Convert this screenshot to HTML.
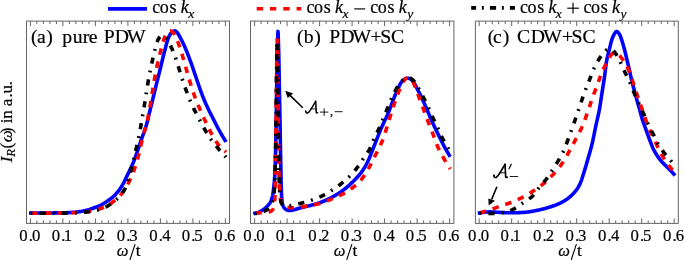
<!DOCTYPE html>
<html><head><meta charset="utf-8"><style>
html,body{margin:0;padding:0;background:#fff;overflow:hidden;}
svg{display:block;will-change:transform;}
text{font-family:"Liberation Serif",serif;fill:#000;stroke:#000;stroke-width:0.2px;}
</style></head><body>
<svg width="685" height="260" viewBox="0 0 685 260" xmlns="http://www.w3.org/2000/svg">
<rect width="685" height="260" fill="#fff"/>
<line x1="108" y1="8.9" x2="147" y2="8.9" stroke="#0000ff" stroke-width="3.7"/>
<text x="152.31 159.81 169.56" y="13.1" font-size="18" >cos</text><text x="180.78" y="13.1" font-size="18" font-style="italic" >k</text><text x="188.26" y="17.8" font-size="13.5" font-style="italic" >x</text>
<line x1="256.7" y1="8.65" x2="301.2" y2="8.65" stroke="#ff0000" stroke-width="3.5" stroke-dasharray="6.3 7"/>
<text x="306.61 314.11 323.86" y="13.1" font-size="18" >cos</text><text x="335.08" y="13.1" font-size="18" font-style="italic" >k</text><text x="342.56" y="17.8" font-size="13.5" font-style="italic" >x</text>
<line x1="354.3" y1="8.9" x2="365.2" y2="8.9" stroke="#000" stroke-width="1.15"/>
<text x="370.31 377.81 387.56" y="13.1" font-size="18" >cos</text><text x="398.78" y="13.1" font-size="18" font-style="italic" >k</text><text x="407.23" y="17.8" font-size="13.5" font-style="italic" >y</text>
<line x1="471.2" y1="7.9" x2="514.9" y2="7.9" stroke="#000000" stroke-width="3.7" stroke-dasharray="6.2 5.8 1.9 6.1" stroke-dashoffset="1.3"/>
<text x="519.91 527.41 537.16" y="13.1" font-size="18" >cos</text><text x="548.38" y="13.1" font-size="18" font-style="italic" >k</text><text x="555.86" y="17.8" font-size="13.5" font-style="italic" >x</text>
<line x1="567.2" y1="8.2" x2="578.9" y2="8.2" stroke="#000" stroke-width="1.15"/>
<line x1="573.0" y1="2.8" x2="573.0" y2="13.6" stroke="#000" stroke-width="1.15"/>
<text x="583.61 591.11 600.86" y="13.1" font-size="18" >cos</text><text x="612.08" y="13.1" font-size="18" font-style="italic" >k</text><text x="620.53" y="17.8" font-size="13.5" font-style="italic" >y</text>
<rect x="26.5" y="21.1" width="203.00" height="202.30" fill="none" stroke="#666" stroke-width="1"/>
<line x1="30.40" y1="21.1" x2="30.40" y2="26.1" stroke="#666" stroke-width="1"/>
<line x1="30.40" y1="223.4" x2="30.40" y2="218.4" stroke="#666" stroke-width="1"/>
<line x1="36.90" y1="21.1" x2="36.90" y2="24.1" stroke="#666" stroke-width="1"/>
<line x1="36.90" y1="223.4" x2="36.90" y2="220.4" stroke="#666" stroke-width="1"/>
<line x1="43.40" y1="21.1" x2="43.40" y2="24.1" stroke="#666" stroke-width="1"/>
<line x1="43.40" y1="223.4" x2="43.40" y2="220.4" stroke="#666" stroke-width="1"/>
<line x1="49.90" y1="21.1" x2="49.90" y2="24.1" stroke="#666" stroke-width="1"/>
<line x1="49.90" y1="223.4" x2="49.90" y2="220.4" stroke="#666" stroke-width="1"/>
<line x1="56.40" y1="21.1" x2="56.40" y2="24.1" stroke="#666" stroke-width="1"/>
<line x1="56.40" y1="223.4" x2="56.40" y2="220.4" stroke="#666" stroke-width="1"/>
<line x1="62.90" y1="21.1" x2="62.90" y2="26.1" stroke="#666" stroke-width="1"/>
<line x1="62.90" y1="223.4" x2="62.90" y2="218.4" stroke="#666" stroke-width="1"/>
<line x1="69.40" y1="21.1" x2="69.40" y2="24.1" stroke="#666" stroke-width="1"/>
<line x1="69.40" y1="223.4" x2="69.40" y2="220.4" stroke="#666" stroke-width="1"/>
<line x1="75.90" y1="21.1" x2="75.90" y2="24.1" stroke="#666" stroke-width="1"/>
<line x1="75.90" y1="223.4" x2="75.90" y2="220.4" stroke="#666" stroke-width="1"/>
<line x1="82.40" y1="21.1" x2="82.40" y2="24.1" stroke="#666" stroke-width="1"/>
<line x1="82.40" y1="223.4" x2="82.40" y2="220.4" stroke="#666" stroke-width="1"/>
<line x1="88.90" y1="21.1" x2="88.90" y2="24.1" stroke="#666" stroke-width="1"/>
<line x1="88.90" y1="223.4" x2="88.90" y2="220.4" stroke="#666" stroke-width="1"/>
<line x1="95.40" y1="21.1" x2="95.40" y2="26.1" stroke="#666" stroke-width="1"/>
<line x1="95.40" y1="223.4" x2="95.40" y2="218.4" stroke="#666" stroke-width="1"/>
<line x1="101.90" y1="21.1" x2="101.90" y2="24.1" stroke="#666" stroke-width="1"/>
<line x1="101.90" y1="223.4" x2="101.90" y2="220.4" stroke="#666" stroke-width="1"/>
<line x1="108.40" y1="21.1" x2="108.40" y2="24.1" stroke="#666" stroke-width="1"/>
<line x1="108.40" y1="223.4" x2="108.40" y2="220.4" stroke="#666" stroke-width="1"/>
<line x1="114.90" y1="21.1" x2="114.90" y2="24.1" stroke="#666" stroke-width="1"/>
<line x1="114.90" y1="223.4" x2="114.90" y2="220.4" stroke="#666" stroke-width="1"/>
<line x1="121.40" y1="21.1" x2="121.40" y2="24.1" stroke="#666" stroke-width="1"/>
<line x1="121.40" y1="223.4" x2="121.40" y2="220.4" stroke="#666" stroke-width="1"/>
<line x1="127.90" y1="21.1" x2="127.90" y2="26.1" stroke="#666" stroke-width="1"/>
<line x1="127.90" y1="223.4" x2="127.90" y2="218.4" stroke="#666" stroke-width="1"/>
<line x1="134.40" y1="21.1" x2="134.40" y2="24.1" stroke="#666" stroke-width="1"/>
<line x1="134.40" y1="223.4" x2="134.40" y2="220.4" stroke="#666" stroke-width="1"/>
<line x1="140.90" y1="21.1" x2="140.90" y2="24.1" stroke="#666" stroke-width="1"/>
<line x1="140.90" y1="223.4" x2="140.90" y2="220.4" stroke="#666" stroke-width="1"/>
<line x1="147.40" y1="21.1" x2="147.40" y2="24.1" stroke="#666" stroke-width="1"/>
<line x1="147.40" y1="223.4" x2="147.40" y2="220.4" stroke="#666" stroke-width="1"/>
<line x1="153.90" y1="21.1" x2="153.90" y2="24.1" stroke="#666" stroke-width="1"/>
<line x1="153.90" y1="223.4" x2="153.90" y2="220.4" stroke="#666" stroke-width="1"/>
<line x1="160.40" y1="21.1" x2="160.40" y2="26.1" stroke="#666" stroke-width="1"/>
<line x1="160.40" y1="223.4" x2="160.40" y2="218.4" stroke="#666" stroke-width="1"/>
<line x1="166.90" y1="21.1" x2="166.90" y2="24.1" stroke="#666" stroke-width="1"/>
<line x1="166.90" y1="223.4" x2="166.90" y2="220.4" stroke="#666" stroke-width="1"/>
<line x1="173.40" y1="21.1" x2="173.40" y2="24.1" stroke="#666" stroke-width="1"/>
<line x1="173.40" y1="223.4" x2="173.40" y2="220.4" stroke="#666" stroke-width="1"/>
<line x1="179.90" y1="21.1" x2="179.90" y2="24.1" stroke="#666" stroke-width="1"/>
<line x1="179.90" y1="223.4" x2="179.90" y2="220.4" stroke="#666" stroke-width="1"/>
<line x1="186.40" y1="21.1" x2="186.40" y2="24.1" stroke="#666" stroke-width="1"/>
<line x1="186.40" y1="223.4" x2="186.40" y2="220.4" stroke="#666" stroke-width="1"/>
<line x1="192.90" y1="21.1" x2="192.90" y2="26.1" stroke="#666" stroke-width="1"/>
<line x1="192.90" y1="223.4" x2="192.90" y2="218.4" stroke="#666" stroke-width="1"/>
<line x1="199.40" y1="21.1" x2="199.40" y2="24.1" stroke="#666" stroke-width="1"/>
<line x1="199.40" y1="223.4" x2="199.40" y2="220.4" stroke="#666" stroke-width="1"/>
<line x1="205.90" y1="21.1" x2="205.90" y2="24.1" stroke="#666" stroke-width="1"/>
<line x1="205.90" y1="223.4" x2="205.90" y2="220.4" stroke="#666" stroke-width="1"/>
<line x1="212.40" y1="21.1" x2="212.40" y2="24.1" stroke="#666" stroke-width="1"/>
<line x1="212.40" y1="223.4" x2="212.40" y2="220.4" stroke="#666" stroke-width="1"/>
<line x1="218.90" y1="21.1" x2="218.90" y2="24.1" stroke="#666" stroke-width="1"/>
<line x1="218.90" y1="223.4" x2="218.90" y2="220.4" stroke="#666" stroke-width="1"/>
<line x1="225.40" y1="21.1" x2="225.40" y2="26.1" stroke="#666" stroke-width="1"/>
<line x1="225.40" y1="223.4" x2="225.40" y2="218.4" stroke="#666" stroke-width="1"/>
<text transform="translate(19.16,241.3) scale(0.95,1)" font-size="17.6">0</text>
<text transform="translate(28.80,241.3) scale(0.95,1)" font-size="17.6">.</text>
<text transform="translate(31.96,241.3) scale(0.95,1)" font-size="17.6">0</text>
<text transform="translate(51.66,241.3) scale(0.95,1)" font-size="17.6">0</text>
<text transform="translate(61.30,241.3) scale(0.95,1)" font-size="17.6">.</text>
<text transform="translate(63.63,241.3) scale(0.95,1)" font-size="17.6">1</text>
<text transform="translate(84.16,241.3) scale(0.95,1)" font-size="17.6">0</text>
<text transform="translate(93.80,241.3) scale(0.95,1)" font-size="17.6">.</text>
<text transform="translate(96.87,241.3) scale(0.95,1)" font-size="17.6">2</text>
<text transform="translate(116.66,241.3) scale(0.95,1)" font-size="17.6">0</text>
<text transform="translate(126.30,241.3) scale(0.95,1)" font-size="17.6">.</text>
<text transform="translate(129.30,241.3) scale(0.95,1)" font-size="17.6">3</text>
<text transform="translate(149.16,241.3) scale(0.95,1)" font-size="17.6">0</text>
<text transform="translate(158.80,241.3) scale(0.95,1)" font-size="17.6">.</text>
<text transform="translate(162.27,241.3) scale(0.95,1)" font-size="17.6">4</text>
<text transform="translate(181.66,241.3) scale(0.95,1)" font-size="17.6">0</text>
<text transform="translate(191.30,241.3) scale(0.95,1)" font-size="17.6">.</text>
<text transform="translate(194.13,241.3) scale(0.95,1)" font-size="17.6">5</text>
<text transform="translate(214.16,241.3) scale(0.95,1)" font-size="17.6">0</text>
<text transform="translate(223.80,241.3) scale(0.95,1)" font-size="17.6">.</text>
<text transform="translate(226.88,241.3) scale(0.95,1)" font-size="17.6">6</text>
<text x="116.85" y="256.2" font-size="16.5" font-style="italic" >ω</text>
<line x1="135.10" y1="244.2" x2="129.90" y2="259.9" stroke="#000" stroke-width="1.1"/>
<text x="135.63" y="256.3" font-size="17.5" >t</text>
<rect x="250.5" y="21.1" width="203.40" height="202.30" fill="none" stroke="#666" stroke-width="1"/>
<line x1="254.60" y1="21.1" x2="254.60" y2="26.1" stroke="#666" stroke-width="1"/>
<line x1="254.60" y1="223.4" x2="254.60" y2="218.4" stroke="#666" stroke-width="1"/>
<line x1="261.10" y1="21.1" x2="261.10" y2="24.1" stroke="#666" stroke-width="1"/>
<line x1="261.10" y1="223.4" x2="261.10" y2="220.4" stroke="#666" stroke-width="1"/>
<line x1="267.60" y1="21.1" x2="267.60" y2="24.1" stroke="#666" stroke-width="1"/>
<line x1="267.60" y1="223.4" x2="267.60" y2="220.4" stroke="#666" stroke-width="1"/>
<line x1="274.10" y1="21.1" x2="274.10" y2="24.1" stroke="#666" stroke-width="1"/>
<line x1="274.10" y1="223.4" x2="274.10" y2="220.4" stroke="#666" stroke-width="1"/>
<line x1="280.60" y1="21.1" x2="280.60" y2="24.1" stroke="#666" stroke-width="1"/>
<line x1="280.60" y1="223.4" x2="280.60" y2="220.4" stroke="#666" stroke-width="1"/>
<line x1="287.10" y1="21.1" x2="287.10" y2="26.1" stroke="#666" stroke-width="1"/>
<line x1="287.10" y1="223.4" x2="287.10" y2="218.4" stroke="#666" stroke-width="1"/>
<line x1="293.60" y1="21.1" x2="293.60" y2="24.1" stroke="#666" stroke-width="1"/>
<line x1="293.60" y1="223.4" x2="293.60" y2="220.4" stroke="#666" stroke-width="1"/>
<line x1="300.10" y1="21.1" x2="300.10" y2="24.1" stroke="#666" stroke-width="1"/>
<line x1="300.10" y1="223.4" x2="300.10" y2="220.4" stroke="#666" stroke-width="1"/>
<line x1="306.60" y1="21.1" x2="306.60" y2="24.1" stroke="#666" stroke-width="1"/>
<line x1="306.60" y1="223.4" x2="306.60" y2="220.4" stroke="#666" stroke-width="1"/>
<line x1="313.10" y1="21.1" x2="313.10" y2="24.1" stroke="#666" stroke-width="1"/>
<line x1="313.10" y1="223.4" x2="313.10" y2="220.4" stroke="#666" stroke-width="1"/>
<line x1="319.60" y1="21.1" x2="319.60" y2="26.1" stroke="#666" stroke-width="1"/>
<line x1="319.60" y1="223.4" x2="319.60" y2="218.4" stroke="#666" stroke-width="1"/>
<line x1="326.10" y1="21.1" x2="326.10" y2="24.1" stroke="#666" stroke-width="1"/>
<line x1="326.10" y1="223.4" x2="326.10" y2="220.4" stroke="#666" stroke-width="1"/>
<line x1="332.60" y1="21.1" x2="332.60" y2="24.1" stroke="#666" stroke-width="1"/>
<line x1="332.60" y1="223.4" x2="332.60" y2="220.4" stroke="#666" stroke-width="1"/>
<line x1="339.10" y1="21.1" x2="339.10" y2="24.1" stroke="#666" stroke-width="1"/>
<line x1="339.10" y1="223.4" x2="339.10" y2="220.4" stroke="#666" stroke-width="1"/>
<line x1="345.60" y1="21.1" x2="345.60" y2="24.1" stroke="#666" stroke-width="1"/>
<line x1="345.60" y1="223.4" x2="345.60" y2="220.4" stroke="#666" stroke-width="1"/>
<line x1="352.10" y1="21.1" x2="352.10" y2="26.1" stroke="#666" stroke-width="1"/>
<line x1="352.10" y1="223.4" x2="352.10" y2="218.4" stroke="#666" stroke-width="1"/>
<line x1="358.60" y1="21.1" x2="358.60" y2="24.1" stroke="#666" stroke-width="1"/>
<line x1="358.60" y1="223.4" x2="358.60" y2="220.4" stroke="#666" stroke-width="1"/>
<line x1="365.10" y1="21.1" x2="365.10" y2="24.1" stroke="#666" stroke-width="1"/>
<line x1="365.10" y1="223.4" x2="365.10" y2="220.4" stroke="#666" stroke-width="1"/>
<line x1="371.60" y1="21.1" x2="371.60" y2="24.1" stroke="#666" stroke-width="1"/>
<line x1="371.60" y1="223.4" x2="371.60" y2="220.4" stroke="#666" stroke-width="1"/>
<line x1="378.10" y1="21.1" x2="378.10" y2="24.1" stroke="#666" stroke-width="1"/>
<line x1="378.10" y1="223.4" x2="378.10" y2="220.4" stroke="#666" stroke-width="1"/>
<line x1="384.60" y1="21.1" x2="384.60" y2="26.1" stroke="#666" stroke-width="1"/>
<line x1="384.60" y1="223.4" x2="384.60" y2="218.4" stroke="#666" stroke-width="1"/>
<line x1="391.10" y1="21.1" x2="391.10" y2="24.1" stroke="#666" stroke-width="1"/>
<line x1="391.10" y1="223.4" x2="391.10" y2="220.4" stroke="#666" stroke-width="1"/>
<line x1="397.60" y1="21.1" x2="397.60" y2="24.1" stroke="#666" stroke-width="1"/>
<line x1="397.60" y1="223.4" x2="397.60" y2="220.4" stroke="#666" stroke-width="1"/>
<line x1="404.10" y1="21.1" x2="404.10" y2="24.1" stroke="#666" stroke-width="1"/>
<line x1="404.10" y1="223.4" x2="404.10" y2="220.4" stroke="#666" stroke-width="1"/>
<line x1="410.60" y1="21.1" x2="410.60" y2="24.1" stroke="#666" stroke-width="1"/>
<line x1="410.60" y1="223.4" x2="410.60" y2="220.4" stroke="#666" stroke-width="1"/>
<line x1="417.10" y1="21.1" x2="417.10" y2="26.1" stroke="#666" stroke-width="1"/>
<line x1="417.10" y1="223.4" x2="417.10" y2="218.4" stroke="#666" stroke-width="1"/>
<line x1="423.60" y1="21.1" x2="423.60" y2="24.1" stroke="#666" stroke-width="1"/>
<line x1="423.60" y1="223.4" x2="423.60" y2="220.4" stroke="#666" stroke-width="1"/>
<line x1="430.10" y1="21.1" x2="430.10" y2="24.1" stroke="#666" stroke-width="1"/>
<line x1="430.10" y1="223.4" x2="430.10" y2="220.4" stroke="#666" stroke-width="1"/>
<line x1="436.60" y1="21.1" x2="436.60" y2="24.1" stroke="#666" stroke-width="1"/>
<line x1="436.60" y1="223.4" x2="436.60" y2="220.4" stroke="#666" stroke-width="1"/>
<line x1="443.10" y1="21.1" x2="443.10" y2="24.1" stroke="#666" stroke-width="1"/>
<line x1="443.10" y1="223.4" x2="443.10" y2="220.4" stroke="#666" stroke-width="1"/>
<line x1="449.60" y1="21.1" x2="449.60" y2="26.1" stroke="#666" stroke-width="1"/>
<line x1="449.60" y1="223.4" x2="449.60" y2="218.4" stroke="#666" stroke-width="1"/>
<text transform="translate(243.36,241.3) scale(0.95,1)" font-size="17.6">0</text>
<text transform="translate(253.00,241.3) scale(0.95,1)" font-size="17.6">.</text>
<text transform="translate(256.16,241.3) scale(0.95,1)" font-size="17.6">0</text>
<text transform="translate(275.86,241.3) scale(0.95,1)" font-size="17.6">0</text>
<text transform="translate(285.50,241.3) scale(0.95,1)" font-size="17.6">.</text>
<text transform="translate(287.83,241.3) scale(0.95,1)" font-size="17.6">1</text>
<text transform="translate(308.36,241.3) scale(0.95,1)" font-size="17.6">0</text>
<text transform="translate(318.00,241.3) scale(0.95,1)" font-size="17.6">.</text>
<text transform="translate(321.07,241.3) scale(0.95,1)" font-size="17.6">2</text>
<text transform="translate(340.86,241.3) scale(0.95,1)" font-size="17.6">0</text>
<text transform="translate(350.50,241.3) scale(0.95,1)" font-size="17.6">.</text>
<text transform="translate(353.50,241.3) scale(0.95,1)" font-size="17.6">3</text>
<text transform="translate(373.36,241.3) scale(0.95,1)" font-size="17.6">0</text>
<text transform="translate(383.00,241.3) scale(0.95,1)" font-size="17.6">.</text>
<text transform="translate(386.47,241.3) scale(0.95,1)" font-size="17.6">4</text>
<text transform="translate(405.86,241.3) scale(0.95,1)" font-size="17.6">0</text>
<text transform="translate(415.50,241.3) scale(0.95,1)" font-size="17.6">.</text>
<text transform="translate(418.33,241.3) scale(0.95,1)" font-size="17.6">5</text>
<text transform="translate(438.36,241.3) scale(0.95,1)" font-size="17.6">0</text>
<text transform="translate(448.00,241.3) scale(0.95,1)" font-size="17.6">.</text>
<text transform="translate(451.08,241.3) scale(0.95,1)" font-size="17.6">6</text>
<text x="333.65" y="256.2" font-size="16.5" font-style="italic" >ω</text>
<line x1="351.90" y1="244.2" x2="346.70" y2="259.9" stroke="#000" stroke-width="1.1"/>
<text x="352.43" y="256.3" font-size="17.5" >t</text>
<rect x="475.4" y="21.1" width="202.90" height="202.30" fill="none" stroke="#666" stroke-width="1"/>
<line x1="479.20" y1="21.1" x2="479.20" y2="26.1" stroke="#666" stroke-width="1"/>
<line x1="479.20" y1="223.4" x2="479.20" y2="218.4" stroke="#666" stroke-width="1"/>
<line x1="485.70" y1="21.1" x2="485.70" y2="24.1" stroke="#666" stroke-width="1"/>
<line x1="485.70" y1="223.4" x2="485.70" y2="220.4" stroke="#666" stroke-width="1"/>
<line x1="492.20" y1="21.1" x2="492.20" y2="24.1" stroke="#666" stroke-width="1"/>
<line x1="492.20" y1="223.4" x2="492.20" y2="220.4" stroke="#666" stroke-width="1"/>
<line x1="498.70" y1="21.1" x2="498.70" y2="24.1" stroke="#666" stroke-width="1"/>
<line x1="498.70" y1="223.4" x2="498.70" y2="220.4" stroke="#666" stroke-width="1"/>
<line x1="505.20" y1="21.1" x2="505.20" y2="24.1" stroke="#666" stroke-width="1"/>
<line x1="505.20" y1="223.4" x2="505.20" y2="220.4" stroke="#666" stroke-width="1"/>
<line x1="511.70" y1="21.1" x2="511.70" y2="26.1" stroke="#666" stroke-width="1"/>
<line x1="511.70" y1="223.4" x2="511.70" y2="218.4" stroke="#666" stroke-width="1"/>
<line x1="518.20" y1="21.1" x2="518.20" y2="24.1" stroke="#666" stroke-width="1"/>
<line x1="518.20" y1="223.4" x2="518.20" y2="220.4" stroke="#666" stroke-width="1"/>
<line x1="524.70" y1="21.1" x2="524.70" y2="24.1" stroke="#666" stroke-width="1"/>
<line x1="524.70" y1="223.4" x2="524.70" y2="220.4" stroke="#666" stroke-width="1"/>
<line x1="531.20" y1="21.1" x2="531.20" y2="24.1" stroke="#666" stroke-width="1"/>
<line x1="531.20" y1="223.4" x2="531.20" y2="220.4" stroke="#666" stroke-width="1"/>
<line x1="537.70" y1="21.1" x2="537.70" y2="24.1" stroke="#666" stroke-width="1"/>
<line x1="537.70" y1="223.4" x2="537.70" y2="220.4" stroke="#666" stroke-width="1"/>
<line x1="544.20" y1="21.1" x2="544.20" y2="26.1" stroke="#666" stroke-width="1"/>
<line x1="544.20" y1="223.4" x2="544.20" y2="218.4" stroke="#666" stroke-width="1"/>
<line x1="550.70" y1="21.1" x2="550.70" y2="24.1" stroke="#666" stroke-width="1"/>
<line x1="550.70" y1="223.4" x2="550.70" y2="220.4" stroke="#666" stroke-width="1"/>
<line x1="557.20" y1="21.1" x2="557.20" y2="24.1" stroke="#666" stroke-width="1"/>
<line x1="557.20" y1="223.4" x2="557.20" y2="220.4" stroke="#666" stroke-width="1"/>
<line x1="563.70" y1="21.1" x2="563.70" y2="24.1" stroke="#666" stroke-width="1"/>
<line x1="563.70" y1="223.4" x2="563.70" y2="220.4" stroke="#666" stroke-width="1"/>
<line x1="570.20" y1="21.1" x2="570.20" y2="24.1" stroke="#666" stroke-width="1"/>
<line x1="570.20" y1="223.4" x2="570.20" y2="220.4" stroke="#666" stroke-width="1"/>
<line x1="576.70" y1="21.1" x2="576.70" y2="26.1" stroke="#666" stroke-width="1"/>
<line x1="576.70" y1="223.4" x2="576.70" y2="218.4" stroke="#666" stroke-width="1"/>
<line x1="583.20" y1="21.1" x2="583.20" y2="24.1" stroke="#666" stroke-width="1"/>
<line x1="583.20" y1="223.4" x2="583.20" y2="220.4" stroke="#666" stroke-width="1"/>
<line x1="589.70" y1="21.1" x2="589.70" y2="24.1" stroke="#666" stroke-width="1"/>
<line x1="589.70" y1="223.4" x2="589.70" y2="220.4" stroke="#666" stroke-width="1"/>
<line x1="596.20" y1="21.1" x2="596.20" y2="24.1" stroke="#666" stroke-width="1"/>
<line x1="596.20" y1="223.4" x2="596.20" y2="220.4" stroke="#666" stroke-width="1"/>
<line x1="602.70" y1="21.1" x2="602.70" y2="24.1" stroke="#666" stroke-width="1"/>
<line x1="602.70" y1="223.4" x2="602.70" y2="220.4" stroke="#666" stroke-width="1"/>
<line x1="609.20" y1="21.1" x2="609.20" y2="26.1" stroke="#666" stroke-width="1"/>
<line x1="609.20" y1="223.4" x2="609.20" y2="218.4" stroke="#666" stroke-width="1"/>
<line x1="615.70" y1="21.1" x2="615.70" y2="24.1" stroke="#666" stroke-width="1"/>
<line x1="615.70" y1="223.4" x2="615.70" y2="220.4" stroke="#666" stroke-width="1"/>
<line x1="622.20" y1="21.1" x2="622.20" y2="24.1" stroke="#666" stroke-width="1"/>
<line x1="622.20" y1="223.4" x2="622.20" y2="220.4" stroke="#666" stroke-width="1"/>
<line x1="628.70" y1="21.1" x2="628.70" y2="24.1" stroke="#666" stroke-width="1"/>
<line x1="628.70" y1="223.4" x2="628.70" y2="220.4" stroke="#666" stroke-width="1"/>
<line x1="635.20" y1="21.1" x2="635.20" y2="24.1" stroke="#666" stroke-width="1"/>
<line x1="635.20" y1="223.4" x2="635.20" y2="220.4" stroke="#666" stroke-width="1"/>
<line x1="641.70" y1="21.1" x2="641.70" y2="26.1" stroke="#666" stroke-width="1"/>
<line x1="641.70" y1="223.4" x2="641.70" y2="218.4" stroke="#666" stroke-width="1"/>
<line x1="648.20" y1="21.1" x2="648.20" y2="24.1" stroke="#666" stroke-width="1"/>
<line x1="648.20" y1="223.4" x2="648.20" y2="220.4" stroke="#666" stroke-width="1"/>
<line x1="654.70" y1="21.1" x2="654.70" y2="24.1" stroke="#666" stroke-width="1"/>
<line x1="654.70" y1="223.4" x2="654.70" y2="220.4" stroke="#666" stroke-width="1"/>
<line x1="661.20" y1="21.1" x2="661.20" y2="24.1" stroke="#666" stroke-width="1"/>
<line x1="661.20" y1="223.4" x2="661.20" y2="220.4" stroke="#666" stroke-width="1"/>
<line x1="667.70" y1="21.1" x2="667.70" y2="24.1" stroke="#666" stroke-width="1"/>
<line x1="667.70" y1="223.4" x2="667.70" y2="220.4" stroke="#666" stroke-width="1"/>
<line x1="674.20" y1="21.1" x2="674.20" y2="26.1" stroke="#666" stroke-width="1"/>
<line x1="674.20" y1="223.4" x2="674.20" y2="218.4" stroke="#666" stroke-width="1"/>
<text transform="translate(467.96,241.3) scale(0.95,1)" font-size="17.6">0</text>
<text transform="translate(477.60,241.3) scale(0.95,1)" font-size="17.6">.</text>
<text transform="translate(480.76,241.3) scale(0.95,1)" font-size="17.6">0</text>
<text transform="translate(500.46,241.3) scale(0.95,1)" font-size="17.6">0</text>
<text transform="translate(510.10,241.3) scale(0.95,1)" font-size="17.6">.</text>
<text transform="translate(512.43,241.3) scale(0.95,1)" font-size="17.6">1</text>
<text transform="translate(532.96,241.3) scale(0.95,1)" font-size="17.6">0</text>
<text transform="translate(542.60,241.3) scale(0.95,1)" font-size="17.6">.</text>
<text transform="translate(545.67,241.3) scale(0.95,1)" font-size="17.6">2</text>
<text transform="translate(565.46,241.3) scale(0.95,1)" font-size="17.6">0</text>
<text transform="translate(575.10,241.3) scale(0.95,1)" font-size="17.6">.</text>
<text transform="translate(578.10,241.3) scale(0.95,1)" font-size="17.6">3</text>
<text transform="translate(597.96,241.3) scale(0.95,1)" font-size="17.6">0</text>
<text transform="translate(607.60,241.3) scale(0.95,1)" font-size="17.6">.</text>
<text transform="translate(611.07,241.3) scale(0.95,1)" font-size="17.6">4</text>
<text transform="translate(630.46,241.3) scale(0.95,1)" font-size="17.6">0</text>
<text transform="translate(640.10,241.3) scale(0.95,1)" font-size="17.6">.</text>
<text transform="translate(642.93,241.3) scale(0.95,1)" font-size="17.6">5</text>
<text transform="translate(662.96,241.3) scale(0.95,1)" font-size="17.6">0</text>
<text transform="translate(672.60,241.3) scale(0.95,1)" font-size="17.6">.</text>
<text transform="translate(675.68,241.3) scale(0.95,1)" font-size="17.6">6</text>
<text x="558.15" y="256.2" font-size="16.5" font-style="italic" >ω</text>
<line x1="576.40" y1="244.2" x2="571.20" y2="259.9" stroke="#000" stroke-width="1.1"/>
<text x="576.93" y="256.3" font-size="17.5" >t</text>
<path d="M29.00,213.00 L29.13,213.00 L29.26,213.00 L29.38,213.00 L29.50,213.00 L29.62,213.00 L29.75,213.00 L29.89,213.00 L30.04,213.00 L30.21,213.00 L30.40,213.00 L31.01,213.00 L31.77,213.00 L32.64,213.00 L33.61,213.00 L34.65,213.00 L35.73,213.00 L36.84,213.00 L37.93,213.00 L38.99,213.00 L40.00,213.00 L40.99,213.00 L41.99,212.99 L42.99,212.99 L43.99,212.99 L44.99,212.98 L45.99,212.98 L46.99,212.97 L48.00,212.96 L49.00,212.96 L50.00,212.95 L51.00,212.94 L52.00,212.94 L53.00,212.93 L54.00,212.92 L55.00,212.92 L56.00,212.91 L57.00,212.90 L58.00,212.88 L59.00,212.87 L60.00,212.85 L61.00,212.83 L62.00,212.81 L63.00,212.80 L64.00,212.78 L65.00,212.75 L66.00,212.73 L67.00,212.69 L68.00,212.65 L69.00,212.61 L70.00,212.55 L71.01,212.49 L72.02,212.42 L73.04,212.34 L74.06,212.26 L75.08,212.18 L76.09,212.08 L77.09,211.98 L78.08,211.86 L79.05,211.74 L80.00,211.60 L80.84,211.47 L81.67,211.32 L82.49,211.18 L83.30,211.02 L84.10,210.85 L84.89,210.68 L85.68,210.50 L86.46,210.31 L87.23,210.11 L88.00,209.90 L88.73,209.69 L89.46,209.47 L90.18,209.23 L90.90,208.99 L91.61,208.74 L92.32,208.49 L93.01,208.24 L93.69,207.99 L94.35,207.74 L95.00,207.50 L95.54,207.30 L96.06,207.11 L96.57,206.92 L97.07,206.73 L97.57,206.54 L98.05,206.35 L98.54,206.15 L99.02,205.94 L99.51,205.73 L100.00,205.50 L100.51,205.25 L101.01,205.00 L101.52,204.73 L102.02,204.46 L102.52,204.18 L103.02,203.90 L103.52,203.61 L104.01,203.31 L104.51,203.01 L105.00,202.70 L105.51,202.37 L106.03,202.03 L106.55,201.69 L107.06,201.33 L107.58,200.97 L108.08,200.61 L108.58,200.25 L109.07,199.89 L109.54,199.54 L110.00,199.20 L110.37,198.93 L110.72,198.66 L111.07,198.41 L111.40,198.16 L111.73,197.91 L112.06,197.65 L112.39,197.39 L112.72,197.11 L113.05,196.82 L113.40,196.50 L113.85,196.08 L114.30,195.63 L114.77,195.16 L115.24,194.67 L115.71,194.16 L116.18,193.64 L116.65,193.11 L117.11,192.58 L117.56,192.04 L118.00,191.50 L118.45,190.94 L118.88,190.37 L119.32,189.80 L119.74,189.22 L120.16,188.64 L120.58,188.04 L120.99,187.43 L121.40,186.80 L121.80,186.16 L122.20,185.50 L122.65,184.72 L123.10,183.91 L123.53,183.08 L123.97,182.23 L124.39,181.36 L124.82,180.49 L125.24,179.61 L125.66,178.73 L126.08,177.86 L126.50,177.00 L126.92,176.15 L127.34,175.29 L127.77,174.42 L128.19,173.55 L128.61,172.68 L129.03,171.82 L129.44,170.97 L129.83,170.13 L130.22,169.31 L130.60,168.50 L130.92,167.82 L131.23,167.15 L131.53,166.50 L131.82,165.86 L132.11,165.22 L132.40,164.58 L132.68,163.95 L132.95,163.31 L133.23,162.66 L133.50,162.00 L133.78,161.32 L134.05,160.63 L134.31,159.93 L134.57,159.24 L134.83,158.54 L135.08,157.84 L135.34,157.13 L135.59,156.42 L135.84,155.71 L136.10,155.00 L136.36,154.26 L136.63,153.52 L136.89,152.77 L137.15,152.02 L137.41,151.27 L137.67,150.51 L137.93,149.76 L138.19,149.01 L138.44,148.25 L138.70,147.50 L138.95,146.76 L139.19,146.04 L139.43,145.33 L139.66,144.62 L139.90,143.91 L140.13,143.18 L140.38,142.44 L140.64,141.66 L140.91,140.85 L141.20,140.00 L141.65,138.71 L142.14,137.33 L142.66,135.88 L143.21,134.38 L143.77,132.83 L144.33,131.26 L144.89,129.68 L145.42,128.10 L145.93,126.53 L146.40,125.00 L146.83,123.50 L147.24,122.00 L147.62,120.48 L148.00,118.96 L148.36,117.45 L148.71,115.93 L149.05,114.43 L149.40,112.93 L149.75,111.46 L150.10,110.00 L150.43,108.66 L150.75,107.35 L151.07,106.05 L151.39,104.76 L151.71,103.47 L152.03,102.19 L152.34,100.91 L152.66,99.62 L152.98,98.32 L153.30,97.00 L153.64,95.62 L153.97,94.23 L154.31,92.84 L154.65,91.44 L154.99,90.03 L155.33,88.62 L155.67,87.22 L156.01,85.81 L156.36,84.40 L156.70,83.00 L157.05,81.60 L157.40,80.20 L157.75,78.80 L158.10,77.40 L158.45,76.00 L158.80,74.60 L159.15,73.20 L159.50,71.80 L159.85,70.40 L160.20,69.00 L160.55,67.58 L160.90,66.13 L161.25,64.66 L161.60,63.19 L161.95,61.73 L162.30,60.29 L162.64,58.88 L162.97,57.52 L163.29,56.22 L163.60,55.00 L163.82,54.15 L164.03,53.34 L164.24,52.56 L164.44,51.81 L164.64,51.07 L164.83,50.35 L165.03,49.64 L165.22,48.93 L165.41,48.22 L165.60,47.50 L165.77,46.83 L165.94,46.16 L166.10,45.50 L166.26,44.84 L166.42,44.18 L166.58,43.53 L166.75,42.89 L166.92,42.25 L167.10,41.62 L167.30,41.00 L167.49,40.42 L167.69,39.84 L167.89,39.25 L168.10,38.68 L168.31,38.11 L168.53,37.55 L168.76,37.01 L169.00,36.48 L169.24,35.98 L169.50,35.50 L169.72,35.11 L169.95,34.73 L170.18,34.36 L170.42,34.00 L170.66,33.66 L170.91,33.32 L171.17,33.01 L171.44,32.72 L171.72,32.45 L172.00,32.20 L172.26,32.00 L172.53,31.80 L172.81,31.61 L173.10,31.44 L173.39,31.28 L173.68,31.14 L173.97,31.03 L174.26,30.95 L174.53,30.90 L174.80,30.90 L175.04,30.94 L175.27,31.01 L175.50,31.11 L175.73,31.23 L175.96,31.38 L176.18,31.55 L176.39,31.73 L176.60,31.92 L176.80,32.11 L177.00,32.30 L177.21,32.52 L177.40,32.74 L177.58,32.98 L177.75,33.23 L177.92,33.49 L178.08,33.76 L178.25,34.05 L178.42,34.35 L178.61,34.67 L178.80,35.00 L179.13,35.56 L179.48,36.17 L179.84,36.83 L180.22,37.53 L180.60,38.25 L180.99,39.00 L181.38,39.75 L181.76,40.51 L182.14,41.26 L182.50,42.00 L182.87,42.76 L183.23,43.52 L183.59,44.27 L183.94,45.03 L184.29,45.80 L184.64,46.58 L184.99,47.39 L185.35,48.22 L185.72,49.09 L186.10,50.00 L186.63,51.30 L187.19,52.69 L187.76,54.14 L188.34,55.65 L188.93,57.19 L189.52,58.76 L190.10,60.34 L190.68,61.92 L191.25,63.47 L191.80,65.00 L192.34,66.51 L192.87,68.05 L193.40,69.60 L193.93,71.16 L194.45,72.71 L194.96,74.24 L195.47,75.75 L195.96,77.22 L196.44,78.64 L196.90,80.00 L197.26,81.04 L197.60,82.03 L197.92,83.00 L198.25,83.94 L198.56,84.86 L198.88,85.77 L199.20,86.69 L199.52,87.61 L199.85,88.54 L200.20,89.50 L200.58,90.53 L200.95,91.57 L201.34,92.62 L201.73,93.67 L202.12,94.73 L202.52,95.79 L202.93,96.85 L203.34,97.90 L203.77,98.95 L204.20,100.00 L204.65,101.06 L205.11,102.12 L205.58,103.18 L206.06,104.24 L206.54,105.30 L207.03,106.35 L207.52,107.40 L208.01,108.44 L208.51,109.48 L209.00,110.50 L209.47,111.48 L209.95,112.45 L210.44,113.42 L210.93,114.39 L211.41,115.34 L211.90,116.30 L212.38,117.24 L212.86,118.17 L213.34,119.09 L213.80,120.00 L214.21,120.81 L214.62,121.62 L215.02,122.41 L215.42,123.19 L215.81,123.97 L216.21,124.74 L216.60,125.51 L217.00,126.28 L217.40,127.04 L217.80,127.80 L218.20,128.54 L218.59,129.27 L218.99,130.01 L219.40,130.74 L219.80,131.47 L220.20,132.19 L220.60,132.90 L221.00,133.61 L221.40,134.31 L221.80,135.00 L222.18,135.65 L222.57,136.32 L222.98,137.00 L223.39,137.69 L223.79,138.35 L224.18,138.99 L224.54,139.59 L224.87,140.13 L225.16,140.61 L225.40,141.00 L225.49,141.15 L225.57,141.28 L225.64,141.40 L225.70,141.50 L225.76,141.60 L225.82,141.70 L225.88,141.79 L225.94,141.89 L226.00,142.00" stroke="#0000ff" stroke-width="3.6" fill="none" stroke-linejoin="round"/>
<path d="M29.00,213.21 L29.13,213.21 L29.25,213.21 L29.37,213.21 L29.48,213.20 L29.60,213.20 L29.72,213.20 L29.86,213.20 L30.02,213.20 L30.19,213.20 L30.40,213.20 L31.44,213.20 L32.87,213.19 L34.61,213.18 L36.60,213.18 L38.77,213.17 L41.06,213.16 L43.39,213.15 L45.70,213.13 L47.93,213.12 L50.00,213.10 L52.02,213.08 L54.10,213.06 L56.20,213.03 L58.32,213.01 L60.42,212.98 L62.48,212.95 L64.50,212.92 L66.44,212.88 L68.28,212.84 L70.00,212.80 L71.14,212.77 L72.24,212.74 L73.29,212.71 L74.30,212.68 L75.29,212.64 L76.25,212.60 L77.19,212.56 L78.13,212.52 L79.06,212.46 L80.00,212.40 L80.84,212.34 L81.67,212.28 L82.49,212.21 L83.29,212.14 L84.09,212.06 L84.89,211.98 L85.67,211.90 L86.45,211.81 L87.23,211.71 L88.00,211.60 L88.73,211.49 L89.45,211.38 L90.18,211.26 L90.90,211.14 L91.61,211.01 L92.31,210.88 L93.01,210.74 L93.69,210.60 L94.35,210.45 L95.00,210.30 L95.54,210.17 L96.06,210.03 L96.57,209.89 L97.07,209.75 L97.56,209.60 L98.05,209.45 L98.53,209.30 L99.02,209.14 L99.51,208.97 L100.00,208.80 L100.50,208.62 L101.01,208.44 L101.51,208.25 L102.01,208.06 L102.51,207.86 L103.01,207.66 L103.51,207.45 L104.01,207.24 L104.50,207.02 L105.00,206.80 L105.51,206.57 L106.02,206.33 L106.53,206.09 L107.05,205.84 L107.56,205.58 L108.06,205.32 L108.56,205.05 L109.05,204.78 L109.53,204.49 L110.00,204.20 L110.43,203.91 L110.84,203.61 L111.25,203.30 L111.64,202.98 L112.03,202.65 L112.42,202.32 L112.80,201.99 L113.20,201.66 L113.59,201.33 L114.00,201.00 L114.44,200.66 L114.89,200.33 L115.35,200.00 L115.81,199.67 L116.28,199.33 L116.74,198.99 L117.19,198.64 L117.64,198.28 L118.08,197.90 L118.50,197.50 L118.93,197.06 L119.35,196.60 L119.77,196.12 L120.17,195.63 L120.57,195.13 L120.96,194.62 L121.34,194.10 L121.73,193.57 L122.11,193.04 L122.50,192.50 L122.92,191.91 L123.33,191.31 L123.74,190.70 L124.15,190.08 L124.56,189.45 L124.96,188.82 L125.36,188.18 L125.75,187.55 L126.13,186.92 L126.50,186.30 L126.85,185.72 L127.18,185.14 L127.52,184.57 L127.84,183.99 L128.16,183.42 L128.48,182.84 L128.79,182.27 L129.10,181.68 L129.40,181.09 L129.70,180.50 L130.00,179.89 L130.30,179.27 L130.59,178.64 L130.88,178.01 L131.16,177.38 L131.44,176.74 L131.71,176.10 L131.98,175.47 L132.24,174.83 L132.50,174.20 L132.75,173.58 L132.99,172.97 L133.23,172.35 L133.46,171.74 L133.69,171.12 L133.91,170.51 L134.14,169.89 L134.36,169.26 L134.58,168.63 L134.80,168.00 L135.03,167.34 L135.25,166.70 L135.47,166.06 L135.69,165.41 L135.90,164.76 L136.12,164.10 L136.34,163.42 L136.56,162.71 L136.78,161.97 L137.00,161.20 L137.31,160.08 L137.63,158.89 L137.95,157.64 L138.27,156.34 L138.59,155.01 L138.92,153.66 L139.24,152.30 L139.56,150.94 L139.88,149.61 L140.20,148.30 L140.51,147.01 L140.82,145.73 L141.12,144.43 L141.43,143.14 L141.73,141.85 L142.04,140.56 L142.35,139.28 L142.66,138.01 L142.98,136.75 L143.30,135.50 L143.62,134.33 L143.95,133.18 L144.29,132.04 L144.63,130.91 L144.97,129.79 L145.31,128.66 L145.65,127.52 L145.98,126.37 L146.30,125.20 L146.60,124.00 L146.92,122.66 L147.22,121.30 L147.51,119.93 L147.80,118.53 L148.08,117.13 L148.35,115.71 L148.61,114.29 L148.88,112.86 L149.14,111.43 L149.40,110.00 L149.67,108.52 L149.93,107.03 L150.19,105.52 L150.44,104.01 L150.69,102.49 L150.93,100.98 L151.18,99.47 L151.42,97.97 L151.66,96.48 L151.90,95.00 L152.13,93.60 L152.35,92.22 L152.56,90.84 L152.78,89.46 L152.99,88.10 L153.20,86.73 L153.42,85.37 L153.64,84.02 L153.87,82.66 L154.10,81.30 L154.33,79.96 L154.57,78.63 L154.81,77.30 L155.05,75.97 L155.29,74.64 L155.54,73.32 L155.79,71.99 L156.05,70.66 L156.32,69.33 L156.60,68.00 L156.89,66.64 L157.19,65.28 L157.50,63.91 L157.82,62.54 L158.14,61.17 L158.47,59.81 L158.80,58.44 L159.13,57.09 L159.46,55.74 L159.80,54.40 L160.13,53.08 L160.47,51.74 L160.82,50.38 L161.18,49.01 L161.53,47.67 L161.88,46.35 L162.23,45.08 L162.56,43.87 L162.89,42.74 L163.20,41.70 L163.39,41.08 L163.57,40.49 L163.74,39.93 L163.91,39.39 L164.08,38.88 L164.25,38.38 L164.43,37.90 L164.61,37.43 L164.80,36.96 L165.00,36.50 L165.18,36.11 L165.36,35.72 L165.54,35.35 L165.73,34.98 L165.92,34.62 L166.12,34.27 L166.33,33.93 L166.54,33.61 L166.76,33.30 L167.00,33.00 L167.22,32.74 L167.45,32.47 L167.69,32.20 L167.93,31.94 L168.18,31.69 L168.43,31.47 L168.70,31.27 L168.96,31.10 L169.23,30.98 L169.50,30.90 L169.76,30.87 L170.04,30.87 L170.32,30.90 L170.61,30.96 L170.90,31.05 L171.19,31.17 L171.48,31.30 L171.76,31.45 L172.03,31.62 L172.30,31.80 L172.64,32.07 L172.97,32.39 L173.29,32.74 L173.61,33.13 L173.92,33.55 L174.22,34.00 L174.52,34.48 L174.81,34.97 L175.11,35.48 L175.40,36.00 L175.80,36.76 L176.19,37.57 L176.56,38.43 L176.93,39.34 L177.30,40.28 L177.66,41.25 L178.02,42.25 L178.38,43.26 L178.74,44.28 L179.10,45.30 L179.54,46.54 L179.97,47.83 L180.41,49.15 L180.85,50.49 L181.28,51.86 L181.72,53.25 L182.15,54.64 L182.57,56.04 L182.99,57.43 L183.40,58.80 L183.81,60.19 L184.21,61.59 L184.60,63.00 L184.99,64.41 L185.37,65.82 L185.76,67.23 L186.14,68.64 L186.52,70.04 L186.91,71.43 L187.30,72.80 L187.68,74.11 L188.05,75.41 L188.43,76.70 L188.80,77.99 L189.18,79.27 L189.55,80.55 L189.93,81.82 L190.32,83.08 L190.71,84.34 L191.10,85.60 L191.48,86.81 L191.87,88.02 L192.26,89.22 L192.64,90.42 L193.04,91.61 L193.44,92.80 L193.84,93.98 L194.25,95.16 L194.67,96.33 L195.10,97.50 L195.53,98.64 L195.97,99.76 L196.41,100.87 L196.86,101.98 L197.31,103.09 L197.77,104.20 L198.24,105.31 L198.72,106.43 L199.21,107.56 L199.70,108.70 L200.24,109.95 L200.80,111.22 L201.37,112.50 L201.94,113.79 L202.53,115.08 L203.12,116.38 L203.71,117.67 L204.31,118.96 L204.91,120.24 L205.50,121.50 L206.07,122.72 L206.65,123.94 L207.21,125.16 L207.78,126.37 L208.36,127.57 L208.94,128.77 L209.53,129.97 L210.14,131.15 L210.76,132.33 L211.40,133.50 L212.06,134.67 L212.73,135.86 L213.41,137.06 L214.10,138.25 L214.81,139.42 L215.52,140.58 L216.25,141.70 L216.99,142.79 L217.74,143.82 L218.50,144.80 L219.19,145.61 L219.95,146.43 L220.75,147.24 L221.56,148.02 L222.37,148.77 L223.14,149.47 L223.86,150.11 L224.49,150.67 L225.01,151.14 L225.40,151.50 L225.50,151.59 L225.58,151.67 L225.65,151.74 L225.71,151.80 L225.77,151.86 L225.82,151.91 L225.88,151.97 L225.94,152.02 L226.00,152.08" stroke="#ff0000" stroke-width="3.6" fill="none" stroke-dasharray="6.5 6.9" stroke-dashoffset="11.3"/>
<path d="M29.00,213.20 L29.13,213.20 L29.25,213.20 L29.37,213.20 L29.48,213.20 L29.60,213.20 L29.72,213.20 L29.86,213.20 L30.02,213.20 L30.19,213.20 L30.40,213.20 L31.44,213.20 L32.87,213.20 L34.61,213.21 L36.60,213.21 L38.77,213.21 L41.06,213.21 L43.39,213.21 L45.70,213.21 L47.93,213.21 L50.00,213.20 L52.02,213.19 L54.10,213.18 L56.20,213.17 L58.32,213.16 L60.42,213.14 L62.48,213.12 L64.50,213.10 L66.44,213.07 L68.28,213.04 L70.00,213.00 L71.14,212.97 L72.24,212.94 L73.29,212.91 L74.30,212.88 L75.29,212.85 L76.25,212.81 L77.19,212.76 L78.13,212.72 L79.06,212.66 L80.00,212.60 L80.83,212.54 L81.64,212.48 L82.44,212.42 L83.22,212.35 L84.00,212.28 L84.77,212.20 L85.56,212.11 L86.35,212.02 L87.17,211.91 L88.00,211.80 L88.98,211.66 L89.99,211.52 L91.01,211.38 L92.05,211.23 L93.10,211.06 L94.15,210.88 L95.20,210.67 L96.25,210.45 L97.28,210.19 L98.30,209.90 L99.34,209.57 L100.38,209.23 L101.42,208.85 L102.45,208.46 L103.48,208.04 L104.50,207.59 L105.52,207.11 L106.52,206.61 L107.52,206.07 L108.50,205.50 L109.56,204.83 L110.64,204.10 L111.72,203.31 L112.80,202.49 L113.86,201.64 L114.89,200.78 L115.88,199.92 L116.82,199.08 L117.70,198.27 L118.50,197.50 L119.02,196.98 L119.51,196.48 L119.96,196.00 L120.39,195.52 L120.79,195.04 L121.18,194.56 L121.56,194.07 L121.94,193.57 L122.32,193.05 L122.70,192.50 L123.13,191.87 L123.55,191.22 L123.97,190.56 L124.38,189.88 L124.78,189.19 L125.17,188.48 L125.55,187.76 L125.91,187.02 L126.26,186.27 L126.60,185.50 L126.95,184.61 L127.28,183.69 L127.59,182.74 L127.89,181.78 L128.17,180.80 L128.44,179.80 L128.70,178.80 L128.96,177.80 L129.23,176.79 L129.50,175.80 L129.78,174.78 L130.06,173.75 L130.34,172.72 L130.61,171.69 L130.88,170.65 L131.15,169.60 L131.41,168.56 L131.68,167.51 L131.94,166.45 L132.20,165.40 L132.47,164.31 L132.73,163.22 L132.99,162.12 L133.25,161.02 L133.51,159.92 L133.77,158.81 L134.02,157.71 L134.28,156.60 L134.54,155.50 L134.80,154.40 L135.06,153.31 L135.32,152.21 L135.59,151.12 L135.86,150.03 L136.12,148.93 L136.38,147.84 L136.65,146.75 L136.90,145.66 L137.15,144.58 L137.40,143.50 L137.63,142.45 L137.87,141.42 L138.09,140.38 L138.32,139.35 L138.54,138.32 L138.76,137.29 L138.97,136.26 L139.18,135.22 L139.39,134.16 L139.60,133.10 L139.81,131.96 L140.02,130.81 L140.23,129.65 L140.43,128.48 L140.63,127.30 L140.82,126.13 L141.02,124.95 L141.21,123.79 L141.41,122.64 L141.60,121.50 L141.78,120.44 L141.97,119.39 L142.15,118.35 L142.33,117.31 L142.51,116.28 L142.69,115.25 L142.87,114.22 L143.04,113.19 L143.22,112.15 L143.40,111.10 L143.58,110.02 L143.76,108.94 L143.95,107.85 L144.13,106.76 L144.31,105.67 L144.49,104.57 L144.67,103.48 L144.85,102.38 L145.02,101.29 L145.20,100.20 L145.37,99.11 L145.54,98.02 L145.71,96.93 L145.88,95.84 L146.05,94.75 L146.22,93.66 L146.39,92.57 L146.56,91.48 L146.73,90.39 L146.90,89.30 L147.07,88.21 L147.25,87.12 L147.42,86.03 L147.59,84.94 L147.77,83.85 L147.95,82.76 L148.13,81.67 L148.31,80.58 L148.50,79.49 L148.70,78.40 L148.90,77.31 L149.11,76.22 L149.32,75.13 L149.54,74.05 L149.76,72.96 L149.98,71.87 L150.21,70.79 L150.44,69.69 L150.67,68.60 L150.90,67.50 L151.14,66.37 L151.38,65.23 L151.62,64.09 L151.87,62.94 L152.11,61.80 L152.36,60.65 L152.62,59.51 L152.87,58.36 L153.13,57.23 L153.40,56.10 L153.66,54.99 L153.93,53.86 L154.20,52.72 L154.48,51.59 L154.76,50.46 L155.04,49.35 L155.32,48.26 L155.61,47.20 L155.90,46.18 L156.20,45.20 L156.43,44.44 L156.65,43.70 L156.87,42.96 L157.09,42.24 L157.32,41.54 L157.55,40.86 L157.80,40.22 L158.08,39.60 L158.37,39.03 L158.70,38.50 L158.98,38.10 L159.28,37.69 L159.59,37.29 L159.91,36.91 L160.25,36.56 L160.59,36.24 L160.94,35.96 L161.29,35.74 L161.65,35.59 L162.00,35.50 L162.34,35.49 L162.69,35.54 L163.04,35.65 L163.40,35.80 L163.77,35.99 L164.13,36.21 L164.49,36.47 L164.84,36.73 L165.17,37.02 L165.50,37.30 L165.89,37.68 L166.27,38.11 L166.63,38.58 L166.98,39.08 L167.32,39.61 L167.65,40.17 L167.98,40.76 L168.32,41.36 L168.66,41.97 L169.00,42.60 L169.47,43.47 L169.94,44.39 L170.41,45.37 L170.89,46.38 L171.36,47.42 L171.83,48.48 L172.29,49.55 L172.74,50.62 L173.18,51.67 L173.60,52.70 L174.00,53.69 L174.38,54.69 L174.76,55.68 L175.13,56.68 L175.48,57.67 L175.84,58.67 L176.18,59.67 L176.52,60.68 L176.86,61.69 L177.20,62.70 L177.54,63.74 L177.86,64.77 L178.18,65.82 L178.50,66.87 L178.81,67.92 L179.12,68.97 L179.43,70.02 L179.75,71.08 L180.07,72.14 L180.40,73.20 L180.75,74.29 L181.10,75.39 L181.45,76.50 L181.81,77.60 L182.17,78.71 L182.53,79.82 L182.89,80.92 L183.26,82.02 L183.63,83.12 L184.00,84.20 L184.36,85.25 L184.72,86.29 L185.08,87.32 L185.44,88.35 L185.81,89.38 L186.18,90.40 L186.55,91.43 L186.93,92.45 L187.31,93.48 L187.70,94.50 L188.10,95.54 L188.50,96.57 L188.90,97.61 L189.31,98.65 L189.72,99.69 L190.14,100.72 L190.57,101.75 L191.00,102.77 L191.45,103.79 L191.90,104.80 L192.36,105.78 L192.82,106.75 L193.29,107.70 L193.76,108.65 L194.24,109.59 L194.74,110.55 L195.24,111.51 L195.75,112.48 L196.27,113.48 L196.80,114.50 L197.44,115.74 L198.11,117.02 L198.79,118.33 L199.49,119.67 L200.21,121.02 L200.92,122.37 L201.63,123.70 L202.34,125.01 L203.03,126.28 L203.70,127.50 L204.26,128.52 L204.81,129.52 L205.35,130.51 L205.88,131.47 L206.41,132.43 L206.94,133.36 L207.49,134.29 L208.04,135.20 L208.61,136.11 L209.20,137.00 L209.79,137.85 L210.41,138.69 L211.04,139.52 L211.68,140.33 L212.33,141.14 L212.98,141.93 L213.63,142.71 L214.27,143.49 L214.89,144.25 L215.50,145.00 L216.02,145.66 L216.53,146.30 L217.03,146.94 L217.53,147.57 L218.02,148.19 L218.51,148.81 L219.01,149.41 L219.50,150.01 L220.00,150.61 L220.50,151.20 L221.01,151.78 L221.55,152.38 L222.11,152.99 L222.68,153.61 L223.24,154.21 L223.77,154.78 L224.27,155.30 L224.72,155.78 L225.10,156.18 L225.40,156.50 L225.49,156.60 L225.57,156.69 L225.64,156.76 L225.71,156.83 L225.77,156.89 L225.82,156.96 L225.88,157.02 L225.94,157.08 L226.00,157.15" stroke="#000000" stroke-width="3.6" fill="none" stroke-dasharray="6.2 7 1.9 7.1" stroke-dashoffset="11.6"/>
<path d="M253.20,213.59 L253.34,213.56 L253.47,213.53 L253.60,213.51 L253.73,213.48 L253.86,213.45 L254.00,213.42 L254.14,213.40 L254.28,213.37 L254.44,213.33 L254.60,213.30 L254.88,213.25 L255.19,213.19 L255.51,213.14 L255.86,213.09 L256.21,213.03 L256.58,212.96 L256.94,212.89 L257.30,212.81 L257.66,212.71 L258.00,212.60 L258.36,212.47 L258.71,212.32 L259.06,212.16 L259.42,211.99 L259.77,211.80 L260.12,211.61 L260.46,211.42 L260.81,211.21 L261.16,211.01 L261.50,210.80 L261.86,210.58 L262.22,210.35 L262.57,210.12 L262.93,209.88 L263.28,209.63 L263.63,209.38 L263.98,209.12 L264.32,208.85 L264.66,208.58 L265.00,208.30 L265.35,208.00 L265.70,207.69 L266.04,207.36 L266.39,207.03 L266.73,206.70 L267.06,206.36 L267.39,206.02 L267.70,205.68 L268.01,205.34 L268.30,205.00 L268.55,204.71 L268.80,204.42 L269.03,204.14 L269.26,203.86 L269.48,203.57 L269.70,203.28 L269.91,202.98 L270.11,202.67 L270.31,202.34 L270.50,202.00 L270.72,201.57 L270.93,201.13 L271.13,200.67 L271.31,200.20 L271.49,199.71 L271.67,199.21 L271.83,198.69 L271.99,198.15 L272.15,197.58 L272.30,197.00 L272.50,196.15 L272.68,195.25 L272.85,194.29 L273.01,193.30 L273.16,192.28 L273.29,191.24 L273.43,190.18 L273.55,189.12 L273.68,188.05 L273.80,187.00 L273.93,185.86 L274.05,184.72 L274.16,183.58 L274.27,182.43 L274.37,181.26 L274.46,180.08 L274.55,178.86 L274.64,177.61 L274.72,176.33 L274.80,175.00 L274.90,173.23 L274.98,171.42 L275.06,169.55 L275.13,167.63 L275.20,165.67 L275.26,163.65 L275.32,161.57 L275.38,159.44 L275.44,157.25 L275.50,155.00 L275.58,151.89 L275.66,148.62 L275.74,145.22 L275.81,141.70 L275.88,138.11 L275.95,134.47 L276.01,130.81 L276.08,127.16 L276.14,123.54 L276.20,120.00 L276.26,116.48 L276.31,112.93 L276.36,109.36 L276.41,105.78 L276.46,102.22 L276.50,98.67 L276.55,95.17 L276.60,91.71 L276.65,88.32 L276.70,85.00 L276.75,82.13 L276.80,79.26 L276.85,76.42 L276.89,73.61 L276.95,70.84 L277.00,68.13 L277.05,65.47 L277.10,62.89 L277.15,60.40 L277.20,58.00 L277.24,56.22 L277.28,54.48 L277.32,52.79 L277.35,51.14 L277.39,49.53 L277.43,47.96 L277.47,46.43 L277.51,44.92 L277.56,43.45 L277.60,42.00 L277.64,40.76 L277.68,39.40 L277.72,37.99 L277.76,36.59 L277.80,35.24 L277.84,34.01 L277.88,32.95 L277.92,32.13 L277.96,31.59 L278.00,31.40 L278.04,31.59 L278.08,32.12 L278.12,32.93 L278.16,33.98 L278.20,35.20 L278.24,36.54 L278.28,37.95 L278.32,39.36 L278.36,40.73 L278.40,42.00 L278.45,43.59 L278.50,45.22 L278.55,46.91 L278.61,48.64 L278.66,50.42 L278.71,52.24 L278.76,54.11 L278.81,56.03 L278.85,57.99 L278.90,60.00 L278.96,62.69 L279.01,65.51 L279.06,68.44 L279.11,71.45 L279.15,74.52 L279.20,77.63 L279.25,80.76 L279.30,83.88 L279.35,86.97 L279.40,90.00 L279.46,93.00 L279.52,96.00 L279.58,99.00 L279.64,102.00 L279.70,105.00 L279.76,108.00 L279.82,111.00 L279.88,114.00 L279.94,117.00 L280.00,120.00 L280.05,123.03 L280.11,126.10 L280.16,129.19 L280.21,132.29 L280.26,135.38 L280.31,138.44 L280.35,141.45 L280.40,144.39 L280.45,147.25 L280.50,150.00 L280.54,152.17 L280.58,154.28 L280.62,156.33 L280.66,158.34 L280.70,160.32 L280.74,162.27 L280.78,164.20 L280.82,166.13 L280.86,168.06 L280.90,170.00 L280.94,171.86 L280.97,173.73 L281.01,175.61 L281.05,177.48 L281.08,179.34 L281.12,181.16 L281.16,182.95 L281.20,184.70 L281.25,186.38 L281.30,188.00 L281.34,189.23 L281.38,190.43 L281.41,191.62 L281.45,192.78 L281.48,193.91 L281.53,195.00 L281.58,196.07 L281.64,197.09 L281.71,198.07 L281.80,199.00 L281.87,199.64 L281.93,200.25 L282.00,200.84 L282.08,201.41 L282.16,201.97 L282.24,202.51 L282.34,203.03 L282.44,203.53 L282.56,204.02 L282.70,204.50 L282.82,204.88 L282.94,205.24 L283.07,205.60 L283.20,205.95 L283.34,206.29 L283.49,206.61 L283.65,206.93 L283.82,207.23 L284.00,207.52 L284.20,207.80 L284.39,208.05 L284.60,208.29 L284.81,208.52 L285.04,208.74 L285.27,208.95 L285.51,209.15 L285.75,209.33 L286.00,209.51 L286.25,209.66 L286.50,209.80 L286.73,209.91 L286.97,210.01 L287.21,210.09 L287.46,210.16 L287.71,210.22 L287.96,210.27 L288.22,210.31 L288.48,210.35 L288.74,210.38 L289.00,210.40 L289.28,210.42 L289.56,210.43 L289.83,210.43 L290.11,210.42 L290.40,210.41 L290.69,210.38 L290.99,210.35 L291.31,210.31 L291.64,210.26 L292.00,210.20 L292.65,210.07 L293.38,209.90 L294.16,209.70 L294.98,209.46 L295.84,209.21 L296.70,208.96 L297.56,208.70 L298.41,208.45 L299.23,208.21 L300.00,208.00 L300.62,207.84 L301.22,207.69 L301.80,207.54 L302.36,207.40 L302.92,207.27 L303.49,207.13 L304.08,206.98 L304.68,206.83 L305.32,206.67 L306.00,206.50 L307.04,206.24 L308.14,205.97 L309.31,205.69 L310.52,205.39 L311.76,205.08 L313.02,204.76 L314.29,204.42 L315.55,204.07 L316.79,203.69 L318.00,203.30 L319.22,202.88 L320.44,202.43 L321.67,201.97 L322.89,201.49 L324.11,200.99 L325.32,200.48 L326.52,199.95 L327.70,199.41 L328.86,198.86 L330.00,198.30 L331.07,197.75 L332.13,197.19 L333.18,196.60 L334.23,196.00 L335.26,195.39 L336.26,194.78 L337.25,194.17 L338.20,193.57 L339.12,192.98 L340.00,192.40 L340.67,191.95 L341.32,191.51 L341.94,191.08 L342.54,190.66 L343.13,190.23 L343.70,189.80 L344.27,189.37 L344.84,188.92 L345.42,188.47 L346.00,188.00 L346.61,187.49 L347.23,186.97 L347.85,186.43 L348.47,185.89 L349.08,185.34 L349.69,184.78 L350.28,184.23 L350.87,183.68 L351.44,183.13 L352.00,182.60 L352.48,182.13 L352.95,181.67 L353.41,181.22 L353.87,180.77 L354.31,180.31 L354.75,179.86 L355.19,179.40 L355.62,178.94 L356.06,178.48 L356.50,178.00 L356.96,177.50 L357.42,177.00 L357.88,176.49 L358.34,175.98 L358.80,175.47 L359.25,174.95 L359.70,174.42 L360.14,173.89 L360.57,173.35 L361.00,172.80 L361.43,172.23 L361.85,171.65 L362.26,171.07 L362.67,170.48 L363.08,169.88 L363.47,169.28 L363.86,168.67 L364.25,168.05 L364.63,167.43 L365.00,166.80 L365.38,166.15 L365.74,165.49 L366.11,164.83 L366.46,164.17 L366.81,163.50 L367.15,162.82 L367.49,162.13 L367.83,161.43 L368.16,160.72 L368.50,160.00 L368.86,159.20 L369.22,158.39 L369.56,157.57 L369.91,156.74 L370.25,155.90 L370.59,155.05 L370.94,154.18 L371.28,153.30 L371.64,152.41 L372.00,151.50 L372.43,150.43 L372.86,149.33 L373.30,148.21 L373.74,147.07 L374.19,145.92 L374.64,144.75 L375.10,143.57 L375.56,142.39 L376.03,141.19 L376.50,140.00 L377.02,138.69 L377.55,137.36 L378.08,136.01 L378.62,134.66 L379.17,133.29 L379.72,131.92 L380.28,130.55 L380.85,129.19 L381.42,127.84 L382.00,126.50 L382.59,125.19 L383.19,123.89 L383.81,122.59 L384.44,121.31 L385.07,120.02 L385.69,118.73 L386.32,117.44 L386.93,116.14 L387.52,114.83 L388.10,113.50 L388.67,112.11 L389.24,110.68 L389.80,109.22 L390.35,107.74 L390.89,106.27 L391.42,104.82 L391.93,103.40 L392.44,102.03 L392.93,100.73 L393.40,99.50 L393.74,98.65 L394.07,97.83 L394.39,97.04 L394.70,96.27 L395.01,95.53 L395.31,94.80 L395.61,94.09 L395.90,93.38 L396.20,92.69 L396.50,92.00 L396.76,91.41 L397.01,90.83 L397.26,90.26 L397.50,89.70 L397.75,89.15 L397.99,88.61 L398.24,88.07 L398.49,87.54 L398.74,87.02 L399.00,86.50 L399.24,86.02 L399.47,85.54 L399.71,85.06 L399.94,84.59 L400.18,84.13 L400.43,83.67 L400.68,83.23 L400.94,82.80 L401.21,82.39 L401.50,82.00 L401.77,81.67 L402.04,81.34 L402.33,81.02 L402.62,80.71 L402.92,80.42 L403.22,80.14 L403.54,79.87 L403.85,79.63 L404.17,79.40 L404.50,79.20 L404.80,79.03 L405.11,78.87 L405.42,78.73 L405.74,78.60 L406.07,78.48 L406.39,78.38 L406.72,78.30 L407.05,78.24 L407.38,78.21 L407.70,78.20 L408.03,78.22 L408.37,78.25 L408.71,78.32 L409.05,78.40 L409.39,78.50 L409.72,78.63 L410.06,78.77 L410.38,78.93 L410.70,79.11 L411.00,79.30 L411.34,79.55 L411.66,79.83 L411.97,80.13 L412.28,80.46 L412.57,80.82 L412.86,81.19 L413.15,81.57 L413.43,81.97 L413.72,82.38 L414.00,82.80 L414.35,83.34 L414.69,83.91 L415.03,84.51 L415.36,85.13 L415.68,85.77 L416.01,86.42 L416.33,87.07 L416.65,87.73 L416.98,88.37 L417.30,89.00 L417.63,89.62 L417.95,90.25 L418.28,90.87 L418.61,91.50 L418.94,92.13 L419.26,92.75 L419.58,93.37 L419.89,93.99 L420.20,94.60 L420.50,95.20 L420.77,95.74 L421.02,96.27 L421.27,96.79 L421.52,97.30 L421.76,97.81 L422.00,98.33 L422.24,98.85 L422.49,99.38 L422.74,99.93 L423.00,100.50 L423.31,101.19 L423.64,101.91 L423.96,102.64 L424.29,103.39 L424.63,104.15 L424.96,104.92 L425.30,105.69 L425.63,106.46 L425.97,107.23 L426.30,108.00 L426.64,108.79 L426.98,109.59 L427.32,110.39 L427.66,111.19 L428.00,112.00 L428.34,112.81 L428.68,113.61 L429.02,114.41 L429.36,115.21 L429.70,116.00 L430.03,116.76 L430.36,117.52 L430.69,118.28 L431.02,119.04 L431.35,119.79 L431.68,120.54 L432.01,121.29 L432.34,122.03 L432.67,122.77 L433.00,123.50 L433.32,124.19 L433.63,124.87 L433.94,125.54 L434.25,126.21 L434.56,126.87 L434.88,127.54 L435.20,128.21 L435.52,128.89 L435.86,129.59 L436.20,130.30 L436.60,131.13 L437.01,131.97 L437.44,132.83 L437.86,133.71 L438.30,134.59 L438.74,135.47 L439.18,136.36 L439.62,137.24 L440.06,138.13 L440.50,139.00 L440.93,139.87 L441.37,140.75 L441.80,141.63 L442.23,142.50 L442.67,143.38 L443.11,144.25 L443.55,145.12 L443.99,145.99 L444.44,146.85 L444.90,147.70 L445.37,148.56 L445.89,149.47 L446.42,150.40 L446.97,151.34 L447.50,152.26 L448.02,153.13 L448.51,153.95 L448.94,154.68 L449.31,155.30 L449.60,155.80 L449.69,155.96 L449.77,156.10 L449.84,156.22 L449.91,156.33 L449.96,156.43 L450.02,156.53 L450.08,156.62 L450.14,156.72 L450.20,156.83" stroke="#0000ff" stroke-width="3.6" fill="none" stroke-linejoin="round"/>
<path d="M253.20,213.69 L253.34,213.67 L253.47,213.65 L253.60,213.64 L253.72,213.62 L253.85,213.60 L253.98,213.58 L254.12,213.57 L254.27,213.54 L254.43,213.52 L254.60,213.50 L254.94,213.45 L255.33,213.40 L255.75,213.34 L256.19,213.27 L256.66,213.20 L257.14,213.14 L257.62,213.07 L258.09,213.01 L258.56,212.95 L259.00,212.90 L259.41,212.86 L259.81,212.82 L260.21,212.79 L260.61,212.76 L261.01,212.73 L261.41,212.71 L261.81,212.68 L262.20,212.66 L262.60,212.63 L263.00,212.60 L263.40,212.57 L263.81,212.55 L264.22,212.52 L264.63,212.50 L265.04,212.48 L265.44,212.45 L265.84,212.42 L266.24,212.39 L266.62,212.35 L267.00,212.30 L267.32,212.26 L267.64,212.22 L267.95,212.18 L268.26,212.13 L268.57,212.08 L268.87,212.03 L269.16,211.97 L269.45,211.89 L269.73,211.80 L270.00,211.70 L270.25,211.59 L270.49,211.47 L270.73,211.35 L270.96,211.21 L271.18,211.06 L271.40,210.91 L271.61,210.75 L271.82,210.57 L272.01,210.39 L272.20,210.20 L272.39,209.99 L272.57,209.76 L272.74,209.52 L272.90,209.27 L273.05,209.02 L273.20,208.75 L273.33,208.47 L273.46,208.19 L273.58,207.90 L273.70,207.60 L273.82,207.24 L273.93,206.87 L274.03,206.48 L274.12,206.09 L274.19,205.68 L274.26,205.26 L274.32,204.84 L274.38,204.40 L274.44,203.95 L274.50,203.50 L274.57,202.92 L274.63,202.32 L274.68,201.70 L274.72,201.06 L274.75,200.41 L274.79,199.75 L274.82,199.08 L274.84,198.39 L274.87,197.70 L274.90,197.00 L274.93,196.17 L274.96,195.32 L274.98,194.46 L275.00,193.58 L275.02,192.69 L275.04,191.79 L275.05,190.87 L275.07,189.93 L275.08,188.97 L275.10,188.00 L275.12,186.82 L275.14,185.64 L275.16,184.44 L275.18,183.23 L275.20,181.98 L275.22,180.70 L275.24,179.37 L275.26,177.98 L275.28,176.53 L275.30,175.00 L275.34,172.52 L275.37,169.86 L275.41,167.04 L275.45,164.10 L275.49,161.04 L275.53,157.90 L275.57,154.71 L275.62,151.47 L275.66,148.23 L275.70,145.00 L275.75,141.22 L275.80,137.32 L275.85,133.34 L275.90,129.29 L275.95,125.19 L276.00,121.08 L276.05,116.98 L276.10,112.92 L276.15,108.92 L276.20,105.00 L276.24,101.36 L276.28,97.69 L276.32,94.02 L276.36,90.36 L276.40,86.75 L276.44,83.19 L276.48,79.71 L276.52,76.34 L276.56,73.10 L276.60,70.00 L276.63,67.75 L276.66,65.55 L276.69,63.41 L276.71,61.32 L276.74,59.29 L276.77,57.32 L276.80,55.40 L276.83,53.54 L276.87,51.74 L276.90,50.00 L276.93,48.65 L276.96,47.20 L276.99,45.70 L277.02,44.21 L277.05,42.80 L277.08,41.51 L277.11,40.41 L277.14,39.55 L277.17,39.00 L277.20,38.80 L277.23,39.00 L277.26,39.55 L277.29,40.41 L277.32,41.51 L277.35,42.80 L277.38,44.21 L277.41,45.70 L277.44,47.20 L277.47,48.65 L277.50,50.00 L277.53,51.74 L277.57,53.54 L277.60,55.40 L277.63,57.32 L277.66,59.29 L277.69,61.32 L277.72,63.41 L277.75,65.55 L277.77,67.75 L277.80,70.00 L277.83,73.10 L277.87,76.34 L277.90,79.71 L277.92,83.19 L277.95,86.75 L277.98,90.36 L278.01,94.02 L278.04,97.69 L278.07,101.36 L278.10,105.00 L278.14,108.92 L278.17,112.92 L278.21,116.98 L278.24,121.08 L278.28,125.19 L278.32,129.29 L278.36,133.34 L278.41,137.32 L278.45,141.22 L278.50,145.00 L278.54,148.22 L278.58,151.44 L278.63,154.64 L278.67,157.80 L278.72,160.91 L278.76,163.95 L278.82,166.89 L278.87,169.73 L278.93,172.44 L279.00,175.00 L279.05,176.73 L279.10,178.39 L279.15,180.00 L279.20,181.56 L279.25,183.06 L279.30,184.52 L279.37,185.94 L279.44,187.33 L279.51,188.68 L279.60,190.00 L279.67,191.01 L279.74,192.00 L279.82,192.97 L279.90,193.91 L279.98,194.84 L280.07,195.73 L280.17,196.60 L280.27,197.43 L280.38,198.23 L280.50,199.00 L280.59,199.53 L280.68,200.05 L280.77,200.56 L280.86,201.04 L280.96,201.51 L281.06,201.97 L281.18,202.40 L281.30,202.82 L281.44,203.22 L281.60,203.60 L281.73,203.88 L281.86,204.15 L282.00,204.41 L282.14,204.66 L282.29,204.89 L282.45,205.12 L282.62,205.33 L282.80,205.54 L282.99,205.72 L283.20,205.90 L283.43,206.07 L283.68,206.21 L283.94,206.34 L284.22,206.46 L284.50,206.56 L284.80,206.66 L285.09,206.75 L285.40,206.83 L285.70,206.92 L286.00,207.00 L286.33,207.09 L286.67,207.17 L287.01,207.24 L287.36,207.30 L287.72,207.36 L288.08,207.42 L288.43,207.47 L288.79,207.52 L289.15,207.56 L289.50,207.60 L289.84,207.64 L290.18,207.67 L290.51,207.71 L290.84,207.73 L291.17,207.76 L291.51,207.78 L291.86,207.79 L292.22,207.80 L292.60,207.80 L293.00,207.80 L293.60,207.78 L294.25,207.76 L294.92,207.71 L295.63,207.66 L296.35,207.60 L297.09,207.53 L297.83,207.46 L298.56,207.37 L299.29,207.29 L300.00,207.20 L300.70,207.10 L301.41,207.00 L302.11,206.88 L302.82,206.76 L303.52,206.63 L304.22,206.50 L304.92,206.37 L305.62,206.25 L306.31,206.12 L307.00,206.00 L307.66,205.89 L308.31,205.78 L308.96,205.68 L309.61,205.58 L310.26,205.47 L310.90,205.37 L311.55,205.26 L312.19,205.15 L312.84,205.03 L313.50,204.90 L314.19,204.76 L314.88,204.62 L315.57,204.47 L316.27,204.32 L316.97,204.17 L317.67,204.01 L318.36,203.84 L319.05,203.67 L319.73,203.49 L320.40,203.30 L321.03,203.12 L321.65,202.92 L322.26,202.73 L322.87,202.53 L323.47,202.32 L324.08,202.11 L324.68,201.89 L325.28,201.66 L325.89,201.44 L326.50,201.20 L327.15,200.94 L327.79,200.68 L328.44,200.41 L329.09,200.12 L329.74,199.84 L330.39,199.55 L331.05,199.26 L331.70,198.97 L332.35,198.68 L333.00,198.40 L333.65,198.12 L334.31,197.84 L334.96,197.57 L335.62,197.29 L336.27,197.02 L336.92,196.74 L337.58,196.46 L338.22,196.18 L338.86,195.89 L339.50,195.60 L340.12,195.31 L340.73,195.03 L341.34,194.74 L341.95,194.45 L342.55,194.16 L343.15,193.87 L343.74,193.56 L344.34,193.25 L344.92,192.93 L345.50,192.60 L346.07,192.26 L346.63,191.92 L347.19,191.56 L347.74,191.20 L348.29,190.83 L348.83,190.46 L349.37,190.08 L349.91,189.69 L350.46,189.30 L351.00,188.90 L351.57,188.48 L352.14,188.05 L352.72,187.61 L353.29,187.16 L353.86,186.71 L354.43,186.25 L354.99,185.79 L355.54,185.33 L356.08,184.86 L356.60,184.40 L357.07,183.97 L357.54,183.55 L358.00,183.12 L358.45,182.70 L358.89,182.27 L359.32,181.83 L359.75,181.39 L360.17,180.94 L360.59,180.48 L361.00,180.00 L361.42,179.49 L361.83,178.96 L362.24,178.41 L362.64,177.86 L363.03,177.30 L363.42,176.73 L363.80,176.17 L364.17,175.61 L364.54,175.05 L364.90,174.50 L365.23,174.00 L365.55,173.50 L365.87,173.01 L366.18,172.52 L366.49,172.03 L366.79,171.54 L367.09,171.04 L367.39,170.54 L367.69,170.02 L368.00,169.50 L368.33,168.92 L368.67,168.33 L369.00,167.73 L369.33,167.12 L369.66,166.51 L369.99,165.89 L370.32,165.27 L370.65,164.64 L370.98,164.02 L371.30,163.40 L371.63,162.77 L371.95,162.14 L372.27,161.50 L372.58,160.87 L372.90,160.23 L373.22,159.59 L373.53,158.95 L373.85,158.30 L374.17,157.65 L374.50,157.00 L374.85,156.31 L375.19,155.61 L375.55,154.91 L375.90,154.20 L376.26,153.49 L376.61,152.79 L376.97,152.08 L377.32,151.38 L377.66,150.69 L378.00,150.00 L378.31,149.37 L378.62,148.74 L378.93,148.12 L379.23,147.51 L379.53,146.89 L379.83,146.28 L380.13,145.67 L380.42,145.05 L380.71,144.43 L381.00,143.80 L381.29,143.16 L381.58,142.54 L381.86,141.92 L382.14,141.30 L382.41,140.67 L382.69,140.03 L382.96,139.37 L383.24,138.68 L383.52,137.96 L383.80,137.20 L384.19,136.07 L384.59,134.86 L384.99,133.58 L385.39,132.24 L385.79,130.87 L386.19,129.48 L386.59,128.08 L386.99,126.69 L387.40,125.33 L387.80,124.00 L388.20,122.73 L388.59,121.46 L388.99,120.20 L389.38,118.94 L389.78,117.68 L390.18,116.43 L390.58,115.17 L390.98,113.92 L391.39,112.66 L391.80,111.40 L392.22,110.10 L392.66,108.78 L393.10,107.43 L393.55,106.08 L393.99,104.74 L394.44,103.42 L394.87,102.13 L395.30,100.89 L395.71,99.71 L396.10,98.60 L396.37,97.85 L396.63,97.13 L396.89,96.44 L397.14,95.78 L397.39,95.13 L397.63,94.50 L397.88,93.87 L398.12,93.25 L398.36,92.63 L398.60,92.00 L398.82,91.41 L399.04,90.82 L399.26,90.24 L399.47,89.66 L399.68,89.08 L399.90,88.51 L400.11,87.95 L400.34,87.39 L400.56,86.84 L400.80,86.30 L401.02,85.80 L401.25,85.30 L401.48,84.80 L401.71,84.31 L401.95,83.82 L402.19,83.35 L402.43,82.88 L402.68,82.44 L402.94,82.01 L403.20,81.60 L403.42,81.27 L403.65,80.94 L403.88,80.63 L404.11,80.32 L404.34,80.02 L404.59,79.74 L404.83,79.47 L405.08,79.22 L405.34,79.00 L405.60,78.80 L405.83,78.65 L406.06,78.51 L406.29,78.38 L406.53,78.26 L406.78,78.16 L407.02,78.07 L407.27,78.00 L407.51,77.95 L407.76,77.91 L408.00,77.90 L408.24,77.91 L408.49,77.93 L408.74,77.98 L408.99,78.04 L409.24,78.12 L409.48,78.22 L409.72,78.32 L409.96,78.44 L410.18,78.57 L410.40,78.70 L410.62,78.85 L410.83,79.02 L411.03,79.21 L411.22,79.41 L411.41,79.62 L411.59,79.84 L411.77,80.07 L411.95,80.30 L412.13,80.55 L412.30,80.80 L412.51,81.11 L412.71,81.44 L412.90,81.79 L413.09,82.14 L413.28,82.51 L413.46,82.89 L413.65,83.28 L413.83,83.68 L414.01,84.08 L414.20,84.50 L414.43,85.04 L414.66,85.60 L414.90,86.18 L415.13,86.79 L415.36,87.40 L415.58,88.02 L415.81,88.65 L416.04,89.27 L416.27,89.89 L416.50,90.50 L416.73,91.10 L416.95,91.68 L417.17,92.26 L417.38,92.83 L417.60,93.41 L417.82,94.00 L418.05,94.61 L418.29,95.24 L418.54,95.90 L418.80,96.60 L419.20,97.68 L419.63,98.83 L420.09,100.04 L420.56,101.30 L421.05,102.60 L421.54,103.93 L422.04,105.26 L422.53,106.59 L423.02,107.91 L423.50,109.20 L423.98,110.50 L424.46,111.80 L424.94,113.12 L425.42,114.43 L425.90,115.75 L426.38,117.06 L426.87,118.37 L427.34,119.66 L427.82,120.94 L428.30,122.20 L428.74,123.35 L429.18,124.48 L429.61,125.59 L430.05,126.68 L430.48,127.78 L430.92,128.87 L431.36,129.98 L431.80,131.10 L432.25,132.23 L432.70,133.40 L433.21,134.73 L433.71,136.10 L434.22,137.50 L434.72,138.91 L435.24,140.33 L435.76,141.76 L436.30,143.17 L436.85,144.58 L437.41,145.95 L438.00,147.30 L438.59,148.58 L439.20,149.85 L439.84,151.12 L440.48,152.38 L441.14,153.62 L441.80,154.85 L442.46,156.05 L443.12,157.23 L443.77,158.38 L444.40,159.50 L444.95,160.46 L445.54,161.44 L446.14,162.44 L446.74,163.43 L447.33,164.38 L447.90,165.29 L448.42,166.12 L448.89,166.86 L449.29,167.50 L449.60,168.00 L449.69,168.15 L449.77,168.28 L449.84,168.40 L449.91,168.50 L449.97,168.60 L450.02,168.69 L450.08,168.78 L450.14,168.88 L450.20,168.98" stroke="#ff0000" stroke-width="3.6" fill="none" stroke-dasharray="6.5 6.9" stroke-dashoffset="11.3"/>
<path d="M253.20,213.57 L253.34,213.57 L253.48,213.56 L253.61,213.55 L253.75,213.54 L253.89,213.54 L254.02,213.53 L254.16,213.52 L254.31,213.52 L254.45,213.51 L254.60,213.50 L254.78,213.49 L254.96,213.49 L255.14,213.48 L255.32,213.48 L255.51,213.48 L255.70,213.47 L255.89,213.46 L256.09,213.45 L256.29,213.43 L256.50,213.40 L256.77,213.36 L257.05,213.31 L257.34,213.25 L257.64,213.18 L257.94,213.11 L258.25,213.03 L258.56,212.95 L258.87,212.87 L259.19,212.78 L259.50,212.70 L259.86,212.61 L260.22,212.51 L260.59,212.41 L260.97,212.31 L261.35,212.21 L261.73,212.10 L262.10,211.98 L262.47,211.86 L262.84,211.73 L263.20,211.60 L263.54,211.47 L263.89,211.33 L264.23,211.19 L264.56,211.04 L264.90,210.89 L265.23,210.73 L265.55,210.57 L265.87,210.39 L266.19,210.20 L266.50,210.00 L266.82,209.78 L267.15,209.54 L267.47,209.29 L267.78,209.03 L268.09,208.77 L268.39,208.49 L268.69,208.20 L268.97,207.91 L269.24,207.61 L269.50,207.30 L269.74,206.98 L269.97,206.66 L270.19,206.32 L270.40,205.97 L270.60,205.62 L270.79,205.26 L270.98,204.90 L271.15,204.53 L271.33,204.17 L271.50,203.80 L271.67,203.43 L271.83,203.07 L271.98,202.69 L272.13,202.32 L272.27,201.94 L272.41,201.56 L272.54,201.18 L272.66,200.79 L272.78,200.40 L272.90,200.00 L273.02,199.57 L273.12,199.14 L273.23,198.71 L273.32,198.28 L273.41,197.83 L273.50,197.38 L273.58,196.93 L273.65,196.46 L273.73,195.99 L273.80,195.50 L273.88,194.90 L273.96,194.30 L274.02,193.67 L274.08,193.04 L274.14,192.39 L274.20,191.74 L274.25,191.07 L274.30,190.39 L274.35,189.70 L274.40,189.00 L274.46,188.16 L274.52,187.30 L274.57,186.42 L274.63,185.53 L274.68,184.62 L274.73,183.71 L274.77,182.78 L274.82,181.85 L274.86,180.93 L274.90,180.00 L274.94,179.04 L274.97,178.11 L275.01,177.18 L275.04,176.25 L275.06,175.31 L275.09,174.35 L275.12,173.35 L275.14,172.30 L275.17,171.18 L275.20,170.00 L275.25,167.98 L275.30,165.81 L275.35,163.51 L275.40,161.09 L275.45,158.57 L275.51,155.96 L275.56,153.28 L275.61,150.55 L275.65,147.79 L275.70,145.00 L275.76,141.37 L275.81,137.56 L275.86,133.60 L275.91,129.55 L275.96,125.42 L276.01,121.26 L276.06,117.10 L276.11,112.98 L276.15,108.93 L276.20,105.00 L276.24,101.35 L276.28,97.67 L276.32,93.97 L276.36,90.28 L276.40,86.63 L276.44,83.06 L276.48,79.58 L276.52,76.22 L276.56,73.02 L276.60,70.00 L276.63,67.94 L276.66,65.95 L276.69,64.03 L276.72,62.16 L276.75,60.35 L276.78,58.60 L276.81,56.89 L276.84,55.22 L276.87,53.59 L276.90,52.00 L276.92,50.69 L276.94,49.28 L276.96,47.81 L276.98,46.35 L277.00,44.96 L277.01,43.69 L277.03,42.60 L277.05,41.75 L277.08,41.20 L277.10,41.00 L277.13,41.20 L277.15,41.75 L277.18,42.60 L277.21,43.69 L277.24,44.96 L277.27,46.35 L277.31,47.81 L277.34,49.28 L277.37,50.69 L277.40,52.00 L277.44,53.59 L277.48,55.22 L277.52,56.89 L277.57,58.60 L277.61,60.35 L277.65,62.16 L277.69,64.02 L277.73,65.95 L277.77,67.94 L277.80,70.00 L277.84,73.02 L277.88,76.22 L277.91,79.58 L277.94,83.06 L277.96,86.63 L277.99,90.28 L278.01,93.97 L278.04,97.67 L278.07,101.35 L278.10,105.00 L278.14,108.92 L278.17,112.92 L278.21,116.98 L278.24,121.08 L278.28,125.19 L278.32,129.29 L278.36,133.34 L278.41,137.32 L278.45,141.22 L278.50,145.00 L278.54,148.22 L278.58,151.44 L278.63,154.64 L278.67,157.80 L278.72,160.91 L278.76,163.95 L278.82,166.89 L278.87,169.73 L278.93,172.44 L279.00,175.00 L279.05,176.73 L279.10,178.39 L279.15,180.00 L279.20,181.56 L279.25,183.06 L279.30,184.52 L279.37,185.94 L279.44,187.33 L279.51,188.68 L279.60,190.00 L279.67,191.01 L279.74,192.00 L279.82,192.97 L279.90,193.92 L279.98,194.85 L280.07,195.75 L280.16,196.61 L280.26,197.45 L280.38,198.24 L280.50,199.00 L280.59,199.52 L280.68,200.02 L280.76,200.51 L280.85,200.98 L280.95,201.43 L281.05,201.87 L281.17,202.29 L281.30,202.68 L281.44,203.05 L281.60,203.40 L281.73,203.64 L281.86,203.87 L282.00,204.09 L282.15,204.30 L282.30,204.50 L282.46,204.68 L282.63,204.85 L282.81,205.02 L283.00,205.16 L283.20,205.30 L283.43,205.43 L283.69,205.54 L283.95,205.64 L284.23,205.72 L284.52,205.79 L284.82,205.84 L285.11,205.89 L285.41,205.93 L285.71,205.97 L286.00,206.00 L286.29,206.03 L286.59,206.04 L286.89,206.04 L287.20,206.04 L287.50,206.03 L287.81,206.01 L288.11,205.99 L288.41,205.96 L288.71,205.93 L289.00,205.90 L289.27,205.87 L289.54,205.83 L289.80,205.79 L290.06,205.74 L290.31,205.69 L290.57,205.63 L290.84,205.58 L291.11,205.52 L291.40,205.46 L291.70,205.40 L292.12,205.32 L292.57,205.23 L293.03,205.14 L293.51,205.04 L294.00,204.94 L294.49,204.84 L294.99,204.73 L295.50,204.62 L296.00,204.51 L296.50,204.40 L297.04,204.27 L297.58,204.14 L298.12,204.00 L298.67,203.86 L299.23,203.72 L299.78,203.58 L300.34,203.43 L300.89,203.29 L301.45,203.14 L302.00,203.00 L302.55,202.86 L303.10,202.73 L303.66,202.59 L304.21,202.46 L304.76,202.33 L305.32,202.19 L305.87,202.05 L306.41,201.91 L306.96,201.76 L307.50,201.60 L308.03,201.44 L308.55,201.27 L309.08,201.10 L309.60,200.92 L310.11,200.74 L310.63,200.56 L311.15,200.37 L311.66,200.18 L312.18,199.99 L312.70,199.80 L313.23,199.60 L313.76,199.40 L314.29,199.20 L314.82,198.99 L315.36,198.79 L315.89,198.57 L316.42,198.36 L316.95,198.14 L317.47,197.92 L318.00,197.70 L318.53,197.47 L319.05,197.24 L319.58,197.01 L320.10,196.77 L320.62,196.53 L321.14,196.29 L321.66,196.04 L322.18,195.80 L322.69,195.55 L323.20,195.30 L323.69,195.06 L324.18,194.82 L324.67,194.58 L325.15,194.33 L325.63,194.09 L326.11,193.84 L326.59,193.59 L327.06,193.33 L327.53,193.07 L328.00,192.80 L328.47,192.52 L328.93,192.23 L329.40,191.94 L329.86,191.64 L330.31,191.33 L330.77,191.03 L331.22,190.72 L331.68,190.41 L332.14,190.10 L332.60,189.80 L333.07,189.49 L333.54,189.19 L334.01,188.89 L334.49,188.58 L334.96,188.28 L335.43,187.97 L335.91,187.66 L336.37,187.35 L336.84,187.03 L337.30,186.70 L337.76,186.37 L338.22,186.03 L338.67,185.68 L339.13,185.33 L339.58,184.98 L340.03,184.63 L340.47,184.27 L340.92,183.92 L341.36,183.56 L341.80,183.20 L342.23,182.85 L342.66,182.49 L343.08,182.13 L343.51,181.77 L343.93,181.41 L344.35,181.05 L344.76,180.69 L345.18,180.33 L345.59,179.96 L346.00,179.60 L346.40,179.24 L346.80,178.89 L347.19,178.54 L347.58,178.19 L347.97,177.83 L348.36,177.47 L348.75,177.11 L349.13,176.75 L349.52,176.38 L349.90,176.00 L350.30,175.60 L350.69,175.20 L351.09,174.78 L351.48,174.37 L351.88,173.95 L352.27,173.53 L352.65,173.10 L353.04,172.67 L353.42,172.24 L353.80,171.80 L354.18,171.35 L354.56,170.90 L354.94,170.44 L355.32,169.98 L355.69,169.52 L356.06,169.05 L356.43,168.59 L356.79,168.12 L357.15,167.66 L357.50,167.20 L357.83,166.77 L358.15,166.34 L358.47,165.91 L358.78,165.48 L359.09,165.06 L359.39,164.63 L359.70,164.20 L360.00,163.77 L360.30,163.34 L360.60,162.90 L360.90,162.46 L361.19,162.01 L361.48,161.56 L361.77,161.11 L362.05,160.65 L362.34,160.20 L362.62,159.75 L362.91,159.30 L363.20,158.85 L363.50,158.40 L363.80,157.96 L364.11,157.52 L364.42,157.08 L364.74,156.64 L365.05,156.20 L365.37,155.77 L365.68,155.33 L365.99,154.89 L366.30,154.45 L366.60,154.00 L366.90,153.55 L367.20,153.10 L367.50,152.65 L367.80,152.20 L368.10,151.74 L368.39,151.29 L368.68,150.82 L368.96,150.36 L369.23,149.88 L369.50,149.40 L369.77,148.89 L370.02,148.38 L370.27,147.85 L370.52,147.32 L370.76,146.79 L370.99,146.25 L371.22,145.71 L371.45,145.17 L371.67,144.63 L371.90,144.10 L372.12,143.57 L372.33,143.04 L372.54,142.51 L372.74,141.98 L372.94,141.45 L373.15,140.91 L373.35,140.38 L373.56,139.85 L373.78,139.32 L374.00,138.80 L374.23,138.27 L374.47,137.75 L374.72,137.23 L374.97,136.71 L375.22,136.19 L375.48,135.67 L375.74,135.15 L375.99,134.63 L376.25,134.12 L376.50,133.60 L376.75,133.09 L377.00,132.58 L377.26,132.07 L377.52,131.56 L377.77,131.05 L378.03,130.54 L378.28,130.03 L378.52,129.52 L378.76,129.01 L379.00,128.50 L379.22,127.99 L379.44,127.48 L379.66,126.98 L379.87,126.47 L380.07,125.95 L380.28,125.44 L380.48,124.93 L380.69,124.42 L380.89,123.91 L381.10,123.40 L381.31,122.89 L381.52,122.38 L381.73,121.87 L381.94,121.36 L382.14,120.85 L382.35,120.34 L382.56,119.83 L382.77,119.32 L382.99,118.81 L383.20,118.30 L383.42,117.79 L383.64,117.28 L383.86,116.77 L384.08,116.26 L384.30,115.75 L384.52,115.24 L384.74,114.73 L384.96,114.22 L385.18,113.71 L385.40,113.20 L385.61,112.70 L385.83,112.20 L386.04,111.70 L386.25,111.20 L386.46,110.70 L386.67,110.20 L386.88,109.70 L387.09,109.20 L387.29,108.70 L387.50,108.20 L387.70,107.71 L387.90,107.22 L388.11,106.73 L388.31,106.24 L388.50,105.75 L388.70,105.26 L388.90,104.77 L389.10,104.28 L389.30,103.79 L389.50,103.30 L389.70,102.81 L389.89,102.32 L390.09,101.83 L390.28,101.35 L390.47,100.86 L390.67,100.37 L390.87,99.88 L391.07,99.39 L391.28,98.89 L391.50,98.40 L391.74,97.87 L391.99,97.34 L392.24,96.81 L392.50,96.28 L392.76,95.74 L393.03,95.21 L393.30,94.68 L393.57,94.15 L393.83,93.62 L394.10,93.10 L394.36,92.60 L394.61,92.10 L394.86,91.60 L395.12,91.10 L395.37,90.60 L395.63,90.11 L395.89,89.63 L396.16,89.14 L396.43,88.67 L396.70,88.20 L396.97,87.76 L397.24,87.31 L397.52,86.88 L397.80,86.44 L398.09,86.01 L398.37,85.59 L398.66,85.17 L398.94,84.77 L399.22,84.38 L399.50,84.00 L399.73,83.69 L399.96,83.39 L400.19,83.09 L400.41,82.81 L400.64,82.53 L400.87,82.25 L401.09,81.98 L401.33,81.72 L401.56,81.46 L401.80,81.20 L402.03,80.96 L402.26,80.72 L402.49,80.48 L402.72,80.24 L402.96,80.01 L403.19,79.79 L403.44,79.57 L403.68,79.37 L403.94,79.18 L404.20,79.00 L404.46,78.84 L404.73,78.68 L405.00,78.53 L405.28,78.39 L405.56,78.25 L405.85,78.13 L406.14,78.03 L406.42,77.93 L406.71,77.86 L407.00,77.80 L407.28,77.76 L407.56,77.73 L407.84,77.72 L408.12,77.72 L408.41,77.73 L408.69,77.76 L408.97,77.80 L409.25,77.85 L409.53,77.92 L409.80,78.00 L410.09,78.10 L410.38,78.23 L410.68,78.37 L410.97,78.53 L411.25,78.71 L411.54,78.89 L411.81,79.08 L412.08,79.29 L412.35,79.49 L412.60,79.70 L412.85,79.92 L413.09,80.14 L413.32,80.37 L413.54,80.62 L413.76,80.87 L413.98,81.12 L414.19,81.38 L414.40,81.65 L414.60,81.92 L414.80,82.20 L415.01,82.50 L415.20,82.81 L415.39,83.13 L415.57,83.45 L415.75,83.78 L415.92,84.11 L416.11,84.45 L416.29,84.80 L416.49,85.15 L416.70,85.50 L416.97,85.94 L417.26,86.38 L417.55,86.84 L417.86,87.30 L418.17,87.77 L418.49,88.25 L418.80,88.73 L419.11,89.21 L419.41,89.71 L419.70,90.20 L420.00,90.73 L420.29,91.27 L420.57,91.82 L420.86,92.38 L421.13,92.95 L421.41,93.51 L421.69,94.07 L421.96,94.62 L422.23,95.17 L422.50,95.70 L422.75,96.18 L422.99,96.65 L423.23,97.11 L423.48,97.57 L423.72,98.03 L423.95,98.48 L424.19,98.93 L424.43,99.39 L424.66,99.84 L424.90,100.30 L425.13,100.76 L425.37,101.21 L425.60,101.67 L425.83,102.12 L426.06,102.58 L426.29,103.03 L426.52,103.49 L426.75,103.96 L426.97,104.43 L427.20,104.90 L427.43,105.40 L427.67,105.92 L427.90,106.43 L428.13,106.95 L428.36,107.47 L428.59,108.00 L428.82,108.52 L429.04,109.05 L429.27,109.58 L429.50,110.10 L429.73,110.63 L429.96,111.16 L430.19,111.69 L430.42,112.23 L430.65,112.76 L430.88,113.29 L431.10,113.83 L431.34,114.35 L431.57,114.88 L431.80,115.40 L432.03,115.90 L432.25,116.39 L432.48,116.89 L432.71,117.38 L432.94,117.87 L433.17,118.35 L433.40,118.84 L433.63,119.32 L433.87,119.81 L434.10,120.30 L434.34,120.79 L434.58,121.28 L434.82,121.77 L435.06,122.25 L435.30,122.74 L435.55,123.23 L435.79,123.72 L436.03,124.21 L436.27,124.70 L436.50,125.20 L436.74,125.71 L436.97,126.23 L437.20,126.74 L437.43,127.26 L437.66,127.78 L437.89,128.31 L438.12,128.83 L438.34,129.35 L438.57,129.88 L438.80,130.40 L439.03,130.93 L439.26,131.46 L439.48,132.00 L439.71,132.54 L439.93,133.08 L440.16,133.61 L440.39,134.14 L440.62,134.67 L440.86,135.19 L441.10,135.70 L441.34,136.18 L441.58,136.65 L441.82,137.11 L442.07,137.57 L442.33,138.03 L442.58,138.48 L442.83,138.94 L443.09,139.39 L443.35,139.84 L443.60,140.30 L443.85,140.76 L444.11,141.21 L444.36,141.66 L444.62,142.11 L444.87,142.57 L445.13,143.02 L445.39,143.48 L445.65,143.94 L445.92,144.42 L446.20,144.90 L446.53,145.48 L446.89,146.11 L447.27,146.77 L447.66,147.44 L448.04,148.11 L448.42,148.75 L448.77,149.36 L449.09,149.92 L449.37,150.40 L449.60,150.80 L449.69,150.95 L449.77,151.09 L449.84,151.21 L449.90,151.32 L449.96,151.43 L450.02,151.53 L450.08,151.63 L450.14,151.73 L450.20,151.84" stroke="#000000" stroke-width="3.6" fill="none" stroke-dasharray="6.2 7 1.9 7.1" stroke-dashoffset="11.6"/>
<path d="M477.80,213.20 L477.94,213.18 L478.07,213.16 L478.20,213.14 L478.34,213.12 L478.47,213.10 L478.61,213.08 L478.74,213.07 L478.89,213.04 L479.04,213.02 L479.20,213.00 L479.44,212.97 L479.69,212.93 L479.95,212.89 L480.23,212.85 L480.51,212.81 L480.80,212.77 L481.09,212.73 L481.39,212.68 L481.70,212.64 L482.00,212.60 L482.37,212.55 L482.75,212.50 L483.15,212.44 L483.55,212.39 L483.95,212.33 L484.36,212.28 L484.78,212.23 L485.19,212.18 L485.60,212.14 L486.00,212.10 L486.40,212.07 L486.79,212.04 L487.18,212.01 L487.58,211.98 L487.97,211.96 L488.37,211.94 L488.77,211.92 L489.17,211.91 L489.58,211.90 L490.00,211.90 L490.48,211.90 L490.96,211.91 L491.46,211.92 L491.96,211.94 L492.47,211.97 L492.97,211.99 L493.48,212.02 L493.99,212.05 L494.50,212.07 L495.00,212.10 L495.49,212.13 L495.97,212.15 L496.45,212.18 L496.92,212.21 L497.39,212.24 L497.88,212.28 L498.37,212.31 L498.89,212.34 L499.43,212.37 L500.00,212.40 L500.86,212.44 L501.78,212.49 L502.75,212.54 L503.75,212.59 L504.79,212.64 L505.83,212.68 L506.89,212.72 L507.94,212.76 L508.98,212.78 L510.00,212.80 L511.00,212.81 L512.00,212.81 L513.00,212.81 L514.00,212.80 L515.00,212.78 L516.00,212.76 L517.00,212.73 L518.00,212.69 L519.00,212.65 L520.00,212.60 L521.00,212.54 L522.00,212.48 L523.00,212.42 L524.01,212.34 L525.01,212.26 L526.01,212.17 L527.01,212.07 L528.01,211.96 L529.00,211.84 L530.00,211.70 L531.00,211.55 L532.01,211.38 L533.01,211.20 L534.01,211.01 L535.01,210.81 L536.01,210.60 L537.01,210.38 L538.01,210.16 L539.00,209.93 L540.00,209.70 L541.00,209.46 L542.01,209.22 L543.01,208.97 L544.01,208.72 L545.01,208.46 L546.02,208.19 L547.01,207.91 L548.01,207.62 L549.01,207.31 L550.00,207.00 L551.02,206.67 L552.06,206.32 L553.10,205.95 L554.15,205.58 L555.19,205.20 L556.21,204.81 L557.21,204.41 L558.18,204.01 L559.11,203.60 L560.00,203.20 L560.68,202.87 L561.34,202.54 L561.98,202.21 L562.60,201.87 L563.20,201.53 L563.79,201.18 L564.36,200.84 L564.92,200.49 L565.47,200.15 L566.00,199.80 L566.44,199.51 L566.87,199.22 L567.28,198.93 L567.68,198.64 L568.08,198.35 L568.47,198.06 L568.85,197.76 L569.23,197.45 L569.61,197.13 L570.00,196.80 L570.41,196.44 L570.82,196.07 L571.23,195.69 L571.63,195.30 L572.03,194.90 L572.43,194.50 L572.83,194.08 L573.22,193.66 L573.61,193.24 L574.00,192.80 L574.42,192.32 L574.84,191.83 L575.26,191.32 L575.68,190.81 L576.09,190.29 L576.50,189.76 L576.89,189.23 L577.28,188.69 L577.65,188.15 L578.00,187.60 L578.33,187.06 L578.64,186.53 L578.94,185.98 L579.23,185.44 L579.51,184.88 L579.78,184.32 L580.04,183.76 L580.30,183.18 L580.55,182.60 L580.80,182.00 L581.06,181.34 L581.31,180.67 L581.55,179.99 L581.77,179.29 L582.00,178.59 L582.21,177.88 L582.43,177.17 L582.65,176.45 L582.87,175.72 L583.10,175.00 L583.35,174.22 L583.60,173.43 L583.86,172.62 L584.11,171.82 L584.37,171.00 L584.62,170.19 L584.88,169.38 L585.12,168.58 L585.36,167.78 L585.60,167.00 L585.81,166.29 L586.02,165.59 L586.21,164.90 L586.41,164.21 L586.60,163.53 L586.80,162.84 L586.99,162.15 L587.19,161.45 L587.39,160.73 L587.60,160.00 L587.85,159.14 L588.10,158.27 L588.36,157.38 L588.63,156.47 L588.90,155.56 L589.17,154.64 L589.43,153.72 L589.70,152.80 L589.95,151.90 L590.20,151.00 L590.43,150.15 L590.66,149.33 L590.88,148.52 L591.09,147.72 L591.31,146.92 L591.52,146.10 L591.73,145.25 L591.95,144.38 L592.17,143.46 L592.40,142.50 L592.72,141.07 L593.05,139.55 L593.38,137.95 L593.72,136.29 L594.06,134.59 L594.41,132.86 L594.75,131.12 L595.10,129.39 L595.45,127.67 L595.80,126.00 L596.16,124.35 L596.52,122.70 L596.90,121.04 L597.28,119.39 L597.65,117.74 L598.03,116.09 L598.39,114.44 L598.74,112.79 L599.08,111.14 L599.40,109.50 L599.69,107.89 L599.96,106.29 L600.22,104.69 L600.47,103.09 L600.71,101.49 L600.95,99.89 L601.18,98.30 L601.42,96.70 L601.65,95.10 L601.90,93.50 L602.15,91.90 L602.40,90.31 L602.66,88.72 L602.91,87.14 L603.16,85.55 L603.41,83.95 L603.66,82.35 L603.91,80.75 L604.16,79.13 L604.40,77.50 L604.64,75.76 L604.88,73.97 L605.11,72.15 L605.33,70.32 L605.56,68.49 L605.79,66.68 L606.02,64.91 L606.27,63.19 L606.53,61.55 L606.80,60.00 L607.02,58.88 L607.25,57.81 L607.48,56.78 L607.72,55.78 L607.97,54.80 L608.21,53.84 L608.46,52.89 L608.71,51.94 L608.96,50.98 L609.20,50.00 L609.44,49.03 L609.67,48.04 L609.90,47.05 L610.13,46.05 L610.37,45.06 L610.60,44.09 L610.84,43.14 L611.09,42.22 L611.34,41.34 L611.60,40.50 L611.80,39.88 L612.00,39.27 L612.20,38.68 L612.41,38.11 L612.61,37.55 L612.83,37.01 L613.05,36.48 L613.29,35.97 L613.53,35.48 L613.80,35.00 L614.05,34.57 L614.30,34.12 L614.57,33.66 L614.85,33.20 L615.14,32.76 L615.43,32.37 L615.72,32.03 L616.01,31.76 L616.31,31.58 L616.60,31.50 L616.87,31.52 L617.14,31.63 L617.42,31.80 L617.71,32.03 L617.99,32.30 L618.27,32.62 L618.54,32.95 L618.81,33.30 L619.06,33.66 L619.30,34.00 L619.59,34.47 L619.87,34.98 L620.12,35.52 L620.36,36.10 L620.59,36.71 L620.81,37.33 L621.03,37.98 L621.25,38.65 L621.47,39.32 L621.70,40.00 L622.00,40.89 L622.30,41.83 L622.60,42.80 L622.90,43.80 L623.19,44.83 L623.48,45.87 L623.77,46.91 L624.05,47.95 L624.33,48.99 L624.60,50.00 L624.86,51.00 L625.11,52.00 L625.36,53.00 L625.59,54.00 L625.83,55.00 L626.06,56.00 L626.30,57.00 L626.53,58.00 L626.76,59.00 L627.00,60.00 L627.24,61.00 L627.48,62.00 L627.73,63.00 L627.97,64.00 L628.21,65.00 L628.45,66.00 L628.69,67.00 L628.93,68.00 L629.17,69.00 L629.40,70.00 L629.63,71.00 L629.85,72.00 L630.06,73.00 L630.28,74.00 L630.49,75.00 L630.70,76.00 L630.92,77.00 L631.14,78.00 L631.37,79.00 L631.60,80.00 L631.84,81.00 L632.09,82.00 L632.35,83.00 L632.61,84.00 L632.87,85.00 L633.13,86.00 L633.40,87.00 L633.67,88.00 L633.93,89.00 L634.20,90.00 L634.47,91.00 L634.73,92.01 L635.00,93.02 L635.27,94.03 L635.54,95.04 L635.81,96.04 L636.08,97.04 L636.36,98.04 L636.63,99.02 L636.90,100.00 L637.16,100.92 L637.42,101.83 L637.68,102.74 L637.95,103.63 L638.21,104.53 L638.47,105.42 L638.73,106.31 L638.99,107.21 L639.25,108.10 L639.50,109.00 L639.74,109.90 L639.98,110.80 L640.21,111.70 L640.44,112.60 L640.67,113.50 L640.90,114.41 L641.14,115.31 L641.38,116.21 L641.63,117.10 L641.90,118.00 L642.18,118.91 L642.48,119.82 L642.78,120.72 L643.09,121.63 L643.41,122.54 L643.73,123.44 L644.05,124.34 L644.37,125.24 L644.69,126.12 L645.00,127.00 L645.29,127.82 L645.58,128.64 L645.87,129.44 L646.16,130.25 L646.45,131.05 L646.74,131.84 L647.03,132.64 L647.32,133.43 L647.61,134.21 L647.90,135.00 L648.18,135.76 L648.46,136.52 L648.74,137.28 L649.01,138.04 L649.29,138.79 L649.57,139.54 L649.85,140.29 L650.13,141.03 L650.42,141.77 L650.70,142.50 L650.97,143.20 L651.24,143.90 L651.51,144.59 L651.78,145.29 L652.05,145.97 L652.32,146.66 L652.60,147.33 L652.89,148.00 L653.19,148.65 L653.50,149.30 L653.80,149.90 L654.12,150.50 L654.44,151.09 L654.77,151.67 L655.10,152.24 L655.44,152.81 L655.78,153.37 L656.12,153.92 L656.46,154.46 L656.80,155.00 L657.11,155.49 L657.43,155.97 L657.74,156.45 L658.06,156.93 L658.38,157.39 L658.70,157.85 L659.02,158.30 L659.35,158.75 L659.67,159.18 L660.00,159.60 L660.29,159.97 L660.59,160.33 L660.89,160.68 L661.19,161.02 L661.49,161.36 L661.79,161.70 L662.09,162.02 L662.39,162.35 L662.70,162.68 L663.00,163.00 L663.30,163.31 L663.59,163.62 L663.89,163.92 L664.19,164.22 L664.49,164.52 L664.80,164.81 L665.10,165.11 L665.40,165.40 L665.70,165.70 L666.00,166.00 L666.30,166.30 L666.60,166.60 L666.90,166.90 L667.20,167.20 L667.50,167.50 L667.80,167.79 L668.10,168.09 L668.40,168.40 L668.70,168.70 L669.00,169.00 L669.30,169.31 L669.61,169.62 L669.91,169.93 L670.22,170.24 L670.53,170.56 L670.83,170.87 L671.13,171.18 L671.43,171.49 L671.72,171.80 L672.00,172.10 L672.26,172.38 L672.53,172.68 L672.79,172.98 L673.06,173.28 L673.32,173.57 L673.57,173.86 L673.81,174.13 L674.03,174.38 L674.23,174.60 L674.40,174.80 L674.48,174.89 L674.56,174.98 L674.63,175.06 L674.69,175.13 L674.76,175.20 L674.81,175.27 L674.87,175.33 L674.94,175.40 L675.00,175.48" stroke="#0000ff" stroke-width="3.6" fill="none" stroke-linejoin="round"/>
<path d="M477.80,213.35 L477.94,213.32 L478.07,213.28 L478.20,213.25 L478.33,213.22 L478.46,213.19 L478.59,213.15 L478.73,213.12 L478.87,213.08 L479.03,213.04 L479.20,213.00 L479.51,212.92 L479.86,212.84 L480.23,212.76 L480.62,212.66 L481.03,212.57 L481.45,212.47 L481.89,212.36 L482.32,212.25 L482.76,212.13 L483.20,212.00 L483.74,211.83 L484.29,211.65 L484.85,211.46 L485.43,211.26 L486.01,211.05 L486.61,210.84 L487.20,210.63 L487.80,210.41 L488.40,210.20 L489.00,210.00 L489.63,209.79 L490.28,209.59 L490.92,209.38 L491.57,209.18 L492.23,208.97 L492.89,208.77 L493.54,208.56 L494.20,208.34 L494.85,208.13 L495.50,207.90 L496.15,207.66 L496.80,207.42 L497.46,207.16 L498.11,206.90 L498.76,206.64 L499.40,206.38 L500.05,206.12 L500.70,205.87 L501.35,205.63 L502.00,205.40 L502.63,205.19 L503.26,205.00 L503.89,204.81 L504.53,204.63 L505.16,204.46 L505.79,204.28 L506.42,204.10 L507.05,203.91 L507.67,203.71 L508.30,203.50 L508.93,203.27 L509.57,203.03 L510.20,202.77 L510.83,202.52 L511.46,202.25 L512.08,201.98 L512.71,201.71 L513.34,201.44 L513.97,201.17 L514.60,200.90 L515.24,200.63 L515.88,200.36 L516.53,200.09 L517.17,199.82 L517.81,199.54 L518.45,199.26 L519.10,198.98 L519.73,198.69 L520.37,198.40 L521.00,198.10 L521.63,197.79 L522.26,197.48 L522.88,197.16 L523.51,196.84 L524.13,196.51 L524.75,196.18 L525.36,195.84 L525.98,195.50 L526.59,195.15 L527.20,194.80 L527.81,194.44 L528.42,194.07 L529.03,193.69 L529.64,193.31 L530.24,192.92 L530.84,192.54 L531.44,192.15 L532.03,191.76 L532.62,191.38 L533.20,191.00 L533.75,190.65 L534.29,190.30 L534.83,189.95 L535.37,189.60 L535.91,189.26 L536.44,188.91 L536.96,188.56 L537.48,188.21 L537.99,187.86 L538.50,187.50 L538.97,187.16 L539.43,186.83 L539.87,186.49 L540.32,186.15 L540.76,185.82 L541.19,185.47 L541.63,185.12 L542.08,184.76 L542.54,184.39 L543.00,184.00 L543.56,183.53 L544.13,183.04 L544.70,182.54 L545.29,182.03 L545.88,181.50 L546.47,180.97 L547.06,180.43 L547.64,179.89 L548.23,179.34 L548.80,178.80 L549.38,178.24 L549.97,177.66 L550.56,177.08 L551.15,176.49 L551.74,175.90 L552.32,175.31 L552.88,174.72 L553.44,174.14 L553.98,173.56 L554.50,173.00 L554.94,172.52 L555.36,172.04 L555.78,171.57 L556.18,171.11 L556.58,170.65 L556.97,170.18 L557.35,169.72 L557.73,169.25 L558.12,168.78 L558.50,168.30 L558.88,167.81 L559.27,167.33 L559.64,166.84 L560.02,166.34 L560.39,165.85 L560.76,165.35 L561.12,164.84 L561.49,164.34 L561.84,163.82 L562.20,163.30 L562.57,162.75 L562.93,162.19 L563.28,161.63 L563.64,161.06 L563.99,160.49 L564.34,159.91 L564.68,159.33 L565.02,158.75 L565.36,158.18 L565.70,157.60 L566.03,157.03 L566.36,156.47 L566.68,155.90 L567.00,155.34 L567.31,154.77 L567.63,154.20 L567.94,153.63 L568.26,153.06 L568.58,152.48 L568.90,151.90 L569.24,151.29 L569.58,150.68 L569.92,150.06 L570.26,149.44 L570.60,148.82 L570.94,148.19 L571.28,147.57 L571.62,146.95 L571.96,146.32 L572.30,145.70 L572.63,145.08 L572.97,144.46 L573.30,143.84 L573.63,143.22 L573.96,142.61 L574.29,141.99 L574.61,141.37 L574.94,140.74 L575.27,140.12 L575.60,139.50 L575.93,138.87 L576.26,138.24 L576.60,137.61 L576.93,136.98 L577.26,136.35 L577.59,135.72 L577.92,135.09 L578.25,134.46 L578.58,133.83 L578.90,133.20 L579.22,132.58 L579.54,131.96 L579.86,131.35 L580.18,130.73 L580.49,130.12 L580.80,129.50 L581.11,128.88 L581.42,128.26 L581.71,127.63 L582.00,127.00 L582.28,126.36 L582.56,125.72 L582.82,125.07 L583.09,124.42 L583.35,123.77 L583.60,123.12 L583.85,122.47 L584.10,121.81 L584.35,121.15 L584.60,120.50 L584.85,119.84 L585.09,119.19 L585.34,118.53 L585.58,117.87 L585.82,117.22 L586.05,116.56 L586.29,115.89 L586.53,115.23 L586.76,114.57 L587.00,113.90 L587.24,113.22 L587.49,112.53 L587.73,111.84 L587.97,111.15 L588.21,110.46 L588.46,109.77 L588.69,109.07 L588.93,108.38 L589.17,107.69 L589.40,107.00 L589.63,106.32 L589.85,105.63 L590.07,104.94 L590.29,104.26 L590.50,103.57 L590.72,102.89 L590.94,102.20 L591.15,101.53 L591.38,100.86 L591.60,100.20 L591.82,99.58 L592.03,98.97 L592.25,98.37 L592.47,97.77 L592.69,97.17 L592.91,96.58 L593.14,95.98 L593.36,95.39 L593.58,94.80 L593.80,94.20 L594.02,93.61 L594.24,93.02 L594.46,92.44 L594.67,91.85 L594.89,91.26 L595.11,90.68 L595.33,90.09 L595.55,89.50 L595.78,88.90 L596.00,88.30 L596.24,87.66 L596.47,87.02 L596.72,86.37 L596.96,85.72 L597.20,85.06 L597.44,84.41 L597.68,83.75 L597.92,83.10 L598.16,82.45 L598.40,81.80 L598.63,81.17 L598.86,80.54 L599.08,79.91 L599.31,79.28 L599.53,78.65 L599.76,78.03 L599.98,77.40 L600.22,76.77 L600.45,76.14 L600.70,75.50 L600.96,74.83 L601.23,74.16 L601.50,73.49 L601.77,72.81 L602.05,72.13 L602.33,71.45 L602.62,70.78 L602.91,70.11 L603.20,69.45 L603.50,68.80 L603.79,68.18 L604.10,67.56 L604.40,66.95 L604.72,66.35 L605.03,65.74 L605.35,65.15 L605.67,64.55 L605.98,63.96 L606.29,63.38 L606.60,62.80 L606.88,62.26 L607.16,61.72 L607.44,61.18 L607.72,60.64 L607.99,60.10 L608.27,59.58 L608.55,59.06 L608.83,58.56 L609.11,58.07 L609.40,57.60 L609.65,57.20 L609.90,56.79 L610.15,56.39 L610.40,56.00 L610.65,55.62 L610.91,55.25 L611.17,54.90 L611.44,54.57 L611.72,54.27 L612.00,54.00 L612.23,53.80 L612.47,53.60 L612.71,53.41 L612.96,53.23 L613.21,53.07 L613.46,52.93 L613.71,52.81 L613.97,52.71 L614.23,52.64 L614.50,52.60 L614.79,52.59 L615.08,52.61 L615.38,52.66 L615.68,52.74 L615.99,52.84 L616.30,52.96 L616.60,53.10 L616.91,53.25 L617.21,53.42 L617.50,53.60 L617.86,53.86 L618.22,54.15 L618.58,54.48 L618.93,54.84 L619.28,55.22 L619.63,55.63 L619.97,56.04 L620.32,56.46 L620.66,56.88 L621.00,57.30 L621.38,57.77 L621.76,58.26 L622.15,58.76 L622.53,59.27 L622.90,59.79 L623.27,60.32 L623.64,60.86 L624.00,61.40 L624.36,61.95 L624.70,62.50 L625.05,63.08 L625.39,63.67 L625.73,64.27 L626.05,64.87 L626.37,65.48 L626.69,66.10 L627.00,66.72 L627.31,67.34 L627.60,67.97 L627.90,68.60 L628.19,69.24 L628.48,69.90 L628.77,70.55 L629.04,71.21 L629.31,71.88 L629.58,72.54 L629.84,73.21 L630.10,73.88 L630.35,74.54 L630.60,75.20 L630.84,75.84 L631.07,76.48 L631.30,77.12 L631.52,77.76 L631.74,78.40 L631.95,79.04 L632.17,79.68 L632.38,80.32 L632.59,80.96 L632.80,81.60 L633.01,82.24 L633.21,82.88 L633.41,83.53 L633.61,84.17 L633.81,84.82 L634.00,85.46 L634.20,86.10 L634.40,86.74 L634.60,87.37 L634.80,88.00 L635.00,88.60 L635.20,89.20 L635.39,89.79 L635.59,90.38 L635.80,90.97 L636.00,91.55 L636.20,92.14 L636.40,92.72 L636.60,93.31 L636.80,93.90 L637.00,94.49 L637.20,95.07 L637.39,95.65 L637.59,96.23 L637.78,96.81 L637.98,97.40 L638.18,97.99 L638.38,98.58 L638.59,99.19 L638.80,99.80 L639.04,100.49 L639.28,101.20 L639.53,101.91 L639.78,102.64 L640.03,103.37 L640.29,104.10 L640.54,104.83 L640.80,105.56 L641.05,106.29 L641.30,107.00 L641.54,107.69 L641.78,108.37 L642.02,109.06 L642.27,109.74 L642.51,110.42 L642.75,111.09 L642.99,111.77 L643.23,112.45 L643.46,113.12 L643.70,113.80 L643.93,114.47 L644.16,115.14 L644.39,115.82 L644.62,116.49 L644.85,117.16 L645.07,117.83 L645.30,118.50 L645.53,119.17 L645.77,119.84 L646.00,120.50 L646.23,121.16 L646.46,121.81 L646.69,122.46 L646.92,123.11 L647.16,123.76 L647.39,124.41 L647.64,125.06 L647.88,125.71 L648.14,126.35 L648.40,127.00 L648.68,127.66 L648.96,128.31 L649.26,128.96 L649.56,129.62 L649.87,130.27 L650.17,130.92 L650.48,131.57 L650.79,132.22 L651.10,132.86 L651.40,133.50 L651.69,134.12 L651.98,134.74 L652.28,135.36 L652.57,135.97 L652.87,136.59 L653.16,137.20 L653.45,137.80 L653.74,138.41 L654.02,139.01 L654.30,139.60 L654.56,140.15 L654.81,140.69 L655.06,141.23 L655.31,141.76 L655.56,142.30 L655.80,142.83 L656.05,143.36 L656.30,143.90 L656.55,144.45 L656.80,145.00 L657.07,145.60 L657.34,146.21 L657.60,146.83 L657.87,147.45 L658.14,148.07 L658.41,148.70 L658.69,149.32 L658.98,149.95 L659.29,150.58 L659.60,151.20 L659.95,151.86 L660.32,152.53 L660.69,153.20 L661.08,153.86 L661.48,154.53 L661.88,155.20 L662.29,155.86 L662.69,156.51 L663.10,157.16 L663.50,157.80 L663.88,158.40 L664.27,159.00 L664.66,159.60 L665.05,160.19 L665.44,160.78 L665.83,161.36 L666.22,161.93 L666.61,162.50 L667.01,163.05 L667.40,163.60 L667.76,164.09 L668.12,164.57 L668.47,165.05 L668.83,165.52 L669.19,165.99 L669.55,166.44 L669.91,166.89 L670.27,167.34 L670.64,167.77 L671.00,168.20 L671.35,168.60 L671.72,169.01 L672.10,169.42 L672.49,169.82 L672.87,170.22 L673.24,170.60 L673.58,170.96 L673.90,171.28 L674.17,171.56 L674.40,171.80 L674.49,171.89 L674.57,171.98 L674.64,172.05 L674.70,172.12 L674.76,172.18 L674.82,172.24 L674.88,172.30 L674.94,172.37 L675.00,172.44" stroke="#ff0000" stroke-width="3.6" fill="none" stroke-dasharray="6.5 6.9" stroke-dashoffset="11.3"/>
<path d="M477.80,213.13 L477.94,213.13 L478.06,213.14 L478.19,213.15 L478.31,213.15 L478.44,213.16 L478.57,213.17 L478.71,213.17 L478.86,213.18 L479.02,213.19 L479.20,213.20 L479.62,213.22 L480.10,213.25 L480.64,213.28 L481.22,213.32 L481.83,213.36 L482.47,213.39 L483.11,213.42 L483.76,213.46 L484.39,213.48 L485.00,213.50 L485.64,213.51 L486.28,213.53 L486.94,213.53 L487.60,213.54 L488.26,213.54 L488.92,213.54 L489.58,213.54 L490.23,213.53 L490.87,213.52 L491.50,213.50 L492.07,213.48 L492.63,213.46 L493.18,213.44 L493.73,213.42 L494.28,213.39 L494.82,213.36 L495.37,213.32 L495.91,213.28 L496.45,213.24 L497.00,213.20 L497.55,213.16 L498.10,213.11 L498.65,213.06 L499.20,213.01 L499.75,212.96 L500.30,212.90 L500.85,212.84 L501.40,212.77 L501.95,212.69 L502.50,212.60 L503.05,212.50 L503.61,212.40 L504.17,212.28 L504.72,212.16 L505.28,212.03 L505.83,211.90 L506.38,211.76 L506.92,211.61 L507.47,211.46 L508.00,211.30 L508.52,211.14 L509.03,210.97 L509.53,210.80 L510.04,210.63 L510.54,210.44 L511.04,210.25 L511.53,210.05 L512.02,209.84 L512.51,209.63 L513.00,209.40 L513.49,209.16 L513.98,208.90 L514.47,208.64 L514.95,208.37 L515.43,208.09 L515.91,207.80 L516.38,207.51 L516.86,207.21 L517.33,206.91 L517.80,206.60 L518.28,206.28 L518.75,205.95 L519.23,205.61 L519.70,205.26 L520.16,204.91 L520.63,204.56 L521.10,204.21 L521.56,203.86 L522.03,203.53 L522.50,203.20 L522.95,202.90 L523.40,202.60 L523.85,202.31 L524.31,202.03 L524.76,201.75 L525.21,201.47 L525.66,201.18 L526.11,200.90 L526.55,200.60 L527.00,200.30 L527.46,199.99 L527.92,199.67 L528.38,199.36 L528.85,199.04 L529.31,198.71 L529.77,198.38 L530.22,198.05 L530.66,197.71 L531.09,197.36 L531.50,197.00 L531.88,196.65 L532.26,196.29 L532.62,195.93 L532.98,195.55 L533.32,195.18 L533.67,194.80 L534.00,194.41 L534.34,194.01 L534.67,193.61 L535.00,193.20 L535.34,192.76 L535.68,192.30 L536.01,191.83 L536.33,191.35 L536.65,190.87 L536.97,190.38 L537.29,189.90 L537.62,189.42 L537.95,188.96 L538.30,188.50 L538.65,188.06 L539.01,187.64 L539.38,187.22 L539.74,186.80 L540.12,186.39 L540.49,185.98 L540.87,185.57 L541.25,185.15 L541.62,184.73 L542.00,184.30 L542.40,183.84 L542.80,183.36 L543.21,182.89 L543.62,182.41 L544.03,181.92 L544.44,181.44 L544.84,180.95 L545.24,180.47 L545.62,179.98 L546.00,179.50 L546.34,179.05 L546.68,178.60 L547.01,178.16 L547.33,177.71 L547.65,177.26 L547.96,176.82 L548.27,176.37 L548.58,175.92 L548.89,175.46 L549.20,175.00 L549.51,174.53 L549.81,174.05 L550.11,173.58 L550.41,173.09 L550.71,172.61 L551.00,172.13 L551.30,171.64 L551.60,171.16 L551.90,170.68 L552.20,170.20 L552.51,169.73 L552.81,169.26 L553.13,168.79 L553.44,168.32 L553.75,167.85 L554.06,167.38 L554.37,166.91 L554.69,166.44 L554.99,165.97 L555.30,165.50 L555.61,165.02 L555.91,164.55 L556.21,164.07 L556.52,163.59 L556.82,163.11 L557.12,162.63 L557.42,162.15 L557.71,161.67 L558.01,161.18 L558.30,160.70 L558.59,160.21 L558.88,159.73 L559.16,159.24 L559.44,158.75 L559.72,158.26 L560.00,157.77 L560.28,157.28 L560.56,156.79 L560.83,156.29 L561.10,155.80 L561.37,155.31 L561.63,154.84 L561.89,154.37 L562.15,153.90 L562.40,153.42 L562.66,152.94 L562.91,152.44 L563.17,151.92 L563.43,151.37 L563.70,150.80 L564.07,149.96 L564.45,149.06 L564.83,148.11 L565.21,147.12 L565.60,146.11 L565.98,145.08 L566.37,144.04 L566.75,143.01 L567.13,141.99 L567.50,141.00 L567.86,140.05 L568.21,139.10 L568.56,138.16 L568.91,137.22 L569.26,136.28 L569.60,135.34 L569.95,134.39 L570.30,133.44 L570.65,132.47 L571.00,131.50 L571.38,130.46 L571.76,129.40 L572.14,128.34 L572.52,127.26 L572.90,126.19 L573.29,125.11 L573.67,124.02 L574.05,122.95 L574.43,121.87 L574.80,120.80 L575.17,119.75 L575.53,118.69 L575.90,117.63 L576.26,116.58 L576.62,115.52 L576.98,114.47 L577.34,113.42 L577.69,112.38 L578.05,111.34 L578.40,110.30 L578.74,109.31 L579.07,108.33 L579.39,107.35 L579.72,106.38 L580.04,105.40 L580.37,104.43 L580.69,103.46 L581.02,102.48 L581.36,101.49 L581.70,100.50 L582.06,99.45 L582.43,98.39 L582.80,97.32 L583.17,96.25 L583.55,95.18 L583.93,94.10 L584.32,93.02 L584.71,91.95 L585.10,90.87 L585.50,89.80 L585.91,88.72 L586.33,87.64 L586.76,86.55 L587.19,85.47 L587.62,84.39 L588.06,83.31 L588.50,82.23 L588.94,81.15 L589.37,80.07 L589.80,79.00 L590.22,77.94 L590.63,76.87 L591.04,75.81 L591.44,74.74 L591.85,73.67 L592.26,72.62 L592.68,71.57 L593.10,70.53 L593.54,69.51 L594.00,68.50 L594.45,67.55 L594.90,66.61 L595.37,65.67 L595.85,64.73 L596.33,63.81 L596.82,62.91 L597.31,62.02 L597.81,61.15 L598.30,60.31 L598.80,59.50 L599.23,58.82 L599.67,58.15 L600.11,57.50 L600.55,56.85 L601.00,56.23 L601.45,55.62 L601.89,55.03 L602.33,54.47 L602.77,53.92 L603.20,53.40 L603.54,53.00 L603.87,52.60 L604.19,52.22 L604.51,51.85 L604.84,51.49 L605.16,51.15 L605.49,50.82 L605.82,50.52 L606.16,50.25 L606.50,50.00 L606.79,49.81 L607.09,49.63 L607.38,49.46 L607.69,49.31 L607.99,49.17 L608.29,49.05 L608.60,48.95 L608.90,48.88 L609.20,48.82 L609.50,48.80 L609.78,48.80 L610.07,48.83 L610.35,48.87 L610.64,48.94 L610.92,49.02 L611.20,49.12 L611.48,49.25 L611.76,49.38 L612.03,49.53 L612.30,49.70 L612.63,49.94 L612.96,50.22 L613.28,50.53 L613.60,50.87 L613.91,51.23 L614.22,51.61 L614.52,52.00 L614.82,52.40 L615.11,52.80 L615.40,53.20 L615.71,53.64 L616.00,54.09 L616.29,54.56 L616.57,55.04 L616.85,55.52 L617.13,56.01 L617.40,56.51 L617.66,57.01 L617.93,57.51 L618.20,58.00 L618.47,58.50 L618.74,59.01 L619.01,59.51 L619.27,60.03 L619.54,60.54 L619.80,61.05 L620.05,61.57 L620.31,62.08 L620.55,62.59 L620.80,63.10 L621.03,63.59 L621.26,64.08 L621.48,64.57 L621.70,65.06 L621.92,65.55 L622.13,66.04 L622.34,66.53 L622.56,67.02 L622.78,67.51 L623.00,68.00 L623.23,68.50 L623.45,69.00 L623.68,69.50 L623.91,70.00 L624.14,70.51 L624.37,71.01 L624.60,71.51 L624.83,72.01 L625.06,72.51 L625.30,73.00 L625.54,73.49 L625.77,73.97 L626.01,74.45 L626.26,74.93 L626.50,75.40 L626.74,75.88 L626.98,76.36 L627.22,76.84 L627.46,77.32 L627.70,77.80 L627.93,78.28 L628.17,78.76 L628.40,79.24 L628.63,79.72 L628.86,80.20 L629.08,80.69 L629.31,81.18 L629.54,81.68 L629.77,82.18 L630.00,82.70 L630.26,83.30 L630.52,83.91 L630.78,84.53 L631.04,85.16 L631.30,85.80 L631.56,86.44 L631.82,87.09 L632.08,87.73 L632.34,88.37 L632.60,89.00 L632.85,89.63 L633.11,90.26 L633.36,90.89 L633.61,91.53 L633.86,92.16 L634.11,92.79 L634.36,93.41 L634.61,94.02 L634.85,94.62 L635.10,95.20 L635.31,95.69 L635.52,96.17 L635.74,96.63 L635.94,97.09 L636.15,97.55 L636.36,98.00 L636.57,98.44 L636.78,98.89 L636.99,99.34 L637.20,99.80 L637.41,100.26 L637.62,100.72 L637.83,101.18 L638.04,101.64 L638.25,102.10 L638.46,102.56 L638.67,103.02 L638.88,103.48 L639.09,103.94 L639.30,104.40 L639.51,104.86 L639.72,105.32 L639.93,105.78 L640.14,106.24 L640.35,106.69 L640.56,107.15 L640.77,107.61 L640.98,108.07 L641.19,108.54 L641.40,109.00 L641.62,109.48 L641.84,109.95 L642.06,110.43 L642.28,110.91 L642.50,111.39 L642.72,111.87 L642.94,112.35 L643.16,112.83 L643.38,113.31 L643.60,113.80 L643.82,114.29 L644.04,114.79 L644.26,115.29 L644.48,115.79 L644.70,116.29 L644.92,116.79 L645.14,117.29 L645.36,117.79 L645.58,118.30 L645.80,118.80 L646.02,119.31 L646.24,119.82 L646.45,120.33 L646.67,120.84 L646.88,121.36 L647.10,121.87 L647.32,122.38 L647.54,122.89 L647.77,123.40 L648.00,123.90 L648.24,124.40 L648.48,124.89 L648.73,125.38 L648.98,125.87 L649.23,126.36 L649.49,126.85 L649.74,127.34 L650.00,127.82 L650.25,128.31 L650.50,128.80 L650.75,129.29 L651.00,129.78 L651.25,130.27 L651.50,130.75 L651.75,131.24 L652.00,131.73 L652.25,132.22 L652.50,132.71 L652.75,133.20 L653.00,133.70 L653.26,134.21 L653.52,134.73 L653.78,135.25 L654.04,135.77 L654.30,136.29 L654.56,136.81 L654.82,137.33 L655.08,137.86 L655.34,138.38 L655.60,138.90 L655.86,139.42 L656.11,139.95 L656.36,140.47 L656.61,141.00 L656.87,141.53 L657.12,142.05 L657.38,142.57 L657.64,143.09 L657.92,143.60 L658.20,144.10 L658.49,144.59 L658.78,145.07 L659.09,145.55 L659.40,146.02 L659.71,146.49 L660.03,146.95 L660.35,147.42 L660.67,147.88 L660.98,148.34 L661.30,148.80 L661.61,149.25 L661.91,149.70 L662.21,150.14 L662.51,150.58 L662.82,151.02 L663.13,151.46 L663.44,151.90 L663.75,152.33 L664.07,152.77 L664.40,153.20 L664.74,153.64 L665.09,154.08 L665.45,154.51 L665.80,154.94 L666.17,155.38 L666.53,155.81 L666.90,156.23 L667.27,156.66 L667.63,157.08 L668.00,157.50 L668.36,157.91 L668.72,158.32 L669.09,158.73 L669.46,159.14 L669.82,159.55 L670.19,159.95 L670.55,160.34 L670.91,160.74 L671.26,161.12 L671.60,161.50 L671.90,161.84 L672.22,162.18 L672.53,162.53 L672.84,162.88 L673.15,163.22 L673.44,163.54 L673.72,163.85 L673.98,164.13 L674.20,164.38 L674.40,164.60 L674.49,164.70 L674.56,164.78 L674.63,164.86 L674.70,164.93 L674.76,165.00 L674.82,165.06 L674.88,165.13 L674.94,165.19 L675.00,165.26" stroke="#000000" stroke-width="3.6" fill="none" stroke-dasharray="6.2 7 1.9 7.1" stroke-dashoffset="11.6"/>
<text x="30.93 36.91 46.37 62.18 72.64 82.71 88.73 103.63 114.63 126.98" y="43.3" font-size="19.7" >(a)purePDW</text>
<text x="296.93 303.80 314.27 329.23 340.23 352.58 370.52 380.28 390.99" y="43.3" font-size="19.7" >(b)PDW+SC</text>
<text x="487.63 493.05 502.87 516.99 530.73 543.18 562.12 571.48 582.59" y="43.3" font-size="19.7" >(c)CDW+SC</text>
<g transform="translate(11.9,0) rotate(-90)"><text x="-162.13" y="0" font-size="17" font-style="italic">I</text><text x="-156.63" y="3.3" font-size="12.5" font-style="italic">R</text><text x="-148.55" y="0" font-size="17">(</text><text x="-142.36" y="0" font-size="17" font-style="italic">ω</text><text x="-133.15" y="0" font-size="17">)</text><text x="-123.16" y="0" font-size="17">i</text><text x="-118.79" y="0" font-size="17">n</text><text x="-106.30" y="0" font-size="17">a</text><text x="-97.62" y="0" font-size="17">.</text><text x="-93.62" y="0" font-size="17">u</text><text x="-85.32" y="0" font-size="17">.</text></g>
<line x1="302.8" y1="107.8" x2="289.5" y2="94.9" stroke="#000" stroke-width="1.6"/>
<polygon points="285.2,90.7 293.1,93.6 287.7,97.9" fill="#000"/>
<g transform="translate(305.3,101.0) scale(0.85)" fill="none" stroke="#000" stroke-linecap="round"><path d="M0.5,11.9 C0.2,13.6 1.6,14.5 2.8,14.1 C5.2,13.2 8.4,6.8 12.2,0.3" stroke-width="1.7"/><path d="M12.2,0.3 L12.9,13.4 C13.1,14.3 13.9,14.3 14.5,13.8" stroke-width="1.8"/><path d="M6.2,9.3 L12.6,9.3" stroke-width="1.0"/><circle cx="0.8" cy="11.9" r="0.8" fill="#000" stroke="none"/></g>
<line x1="320" y1="112.1" x2="328.3" y2="112.1" stroke="#000" stroke-width="0.9"/>
<line x1="324.15" y1="108.3" x2="324.15" y2="115.9" stroke="#000" stroke-width="0.9"/>
<text x="329.92" y="114.8" font-size="12.5" >,</text>
<line x1="334.7" y1="111.7" x2="342.6" y2="111.7" stroke="#000" stroke-width="0.9"/>
<line x1="496.9" y1="186.7" x2="491.6" y2="199.5" stroke="#000" stroke-width="1.6"/>
<polygon points="488.7,205.6 488.3,198.4 495.0,200.8" fill="#000"/>
<g transform="translate(493.4,164.0) scale(0.95)" fill="none" stroke="#000" stroke-linecap="round"><path d="M0.5,11.9 C0.2,13.6 1.6,14.5 2.8,14.1 C5.2,13.2 8.4,6.8 12.2,0.3" stroke-width="1.7"/><path d="M12.2,0.3 L12.9,13.4 C13.1,14.3 13.9,14.3 14.5,13.8" stroke-width="1.8"/><path d="M6.2,9.3 L12.6,9.3" stroke-width="1.0"/><circle cx="0.8" cy="11.9" r="0.8" fill="#000" stroke="none"/></g>
<path d="M511.3,164.3 L509.0,168.7" stroke="#000" stroke-width="1.2" stroke-linecap="round"/>
<line x1="509.8" y1="176.5" x2="518.1" y2="176.5" stroke="#000" stroke-width="0.9"/>
</svg>
</body></html>
